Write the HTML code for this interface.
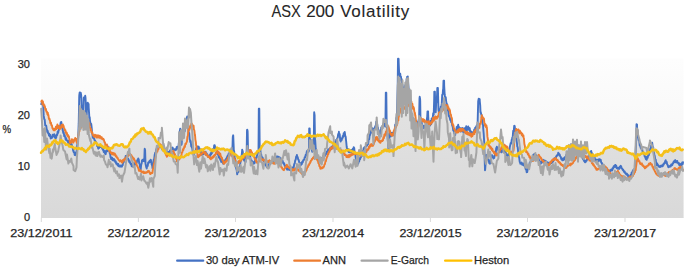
<!DOCTYPE html>
<html><head><meta charset="utf-8"><title>ASX 200 Volatility</title>
<style>html,body{margin:0;padding:0;background:#fff;}body{width:685px;height:268px;overflow:hidden;}svg{display:block;}</style>
</head><body>
<svg width="685" height="268" viewBox="0 0 685 268" font-family='"Liberation Sans", sans-serif' fill="#262626">
<defs>
<linearGradient id="bg" x1="0" y1="0" x2="0" y2="1">
<stop offset="0" stop-color="#fdfdfd"/><stop offset="1" stop-color="#f2f2f2"/>
</linearGradient>
<linearGradient id="fl" gradientUnits="userSpaceOnUse" x1="0" y1="58.5" x2="0" y2="217.5">
<stop offset="0" stop-color="#e6e6e6"/><stop offset="1" stop-color="#d9d9d9"/>
</linearGradient>
</defs>
<rect x="0" y="0" width="685" height="268" fill="#ffffff"/>
<rect x="41.0" y="58.5" width="642.5" height="159.0" fill="url(#bg)"/>
<path d="M41.0,217.5 L41.0,101.3 L41.5,101.1 L42.0,101.2 L42.5,103.4 L43.0,103.5 L43.5,103.9 L44.0,105.9 L44.5,105.8 L45.0,107.2 L45.5,109.7 L46.0,109.5 L46.5,111.9 L47.0,112.1 L47.5,114.1 L48.0,115.3 L48.5,115.7 L49.0,118.7 L49.5,119.1 L50.0,120.7 L50.5,123.2 L51.0,123.1 L51.5,125.3 L52.0,125.8 L52.5,128.1 L53.0,129.1 L53.5,129.3 L54.0,130.0 L54.5,129.2 L55.0,128.8 L55.5,128.8 L56.0,127.2 L56.5,126.8 L57.0,126.6 L57.5,125.3 L58.0,127.3 L58.5,126.9 L59.0,126.5 L59.5,128.4 L60.0,126.0 L60.5,123.6 L61.0,123.2 L61.5,123.5 L62.0,125.7 L62.5,126.5 L63.0,124.8 L63.5,125.8 L64.0,127.5 L64.5,128.8 L65.0,130.4 L65.5,130.6 L66.0,132.9 L66.5,134.0 L67.0,133.5 L67.5,135.8 L68.0,135.4 L68.5,136.8 L69.0,137.5 L69.5,139.5 L70.0,141.8 L70.5,142.9 L71.0,141.6 L71.5,142.0 L72.0,139.4 L72.5,139.9 L73.0,140.7 L73.5,142.0 L74.0,141.1 L74.5,139.3 L75.0,138.9 L75.5,139.5 L76.0,139.3 L76.5,141.8 L77.0,141.9 L77.5,138.5 L78.0,137.6 L78.5,128.7 L79.0,107.9 L79.5,93.7 L80.0,95.1 L80.5,94.4 L81.0,94.3 L81.5,103.3 L82.0,111.4 L82.5,111.5 L83.0,111.2 L83.5,105.3 L84.0,97.4 L84.5,98.6 L85.0,97.2 L85.5,97.6 L86.0,112.2 L86.5,112.9 L87.0,108.1 L87.5,103.2 L88.0,103.5 L88.5,104.0 L89.0,112.1 L89.5,117.6 L90.0,120.7 L90.5,123.5 L91.0,124.3 L91.5,126.1 L92.0,131.3 L92.5,133.3 L93.0,135.4 L93.5,135.6 L94.0,135.7 L94.5,136.4 L95.0,134.9 L95.5,135.7 L96.0,135.8 L96.5,137.1 L97.0,136.4 L97.5,136.3 L98.0,137.2 L98.5,135.8 L99.0,135.9 L99.5,137.5 L100.0,136.2 L100.5,137.5 L101.0,137.3 L101.5,138.6 L102.0,138.4 L102.5,138.8 L103.0,139.2 L103.5,139.0 L104.0,140.1 L104.5,142.1 L105.0,142.8 L105.5,145.2 L106.0,145.2 L106.5,146.2 L107.0,145.0 L107.5,146.2 L108.0,148.6 L108.5,148.4 L109.0,149.0 L109.5,148.6 L110.0,148.2 L110.5,148.5 L111.0,148.3 L111.5,147.8 L112.0,148.1 L112.5,147.9 L113.0,147.1 L113.5,146.0 L114.0,145.1 L114.5,144.8 L115.0,144.8 L115.5,144.9 L116.0,144.5 L116.5,144.3 L117.0,144.4 L117.5,144.9 L118.0,145.4 L118.5,145.5 L119.0,145.7 L119.5,145.8 L120.0,145.3 L120.5,144.9 L121.0,144.4 L121.5,144.2 L122.0,144.2 L122.5,144.4 L123.0,145.2 L123.5,146.3 L124.0,146.9 L124.5,147.3 L125.0,147.3 L125.5,146.9 L126.0,146.6 L126.5,147.0 L127.0,146.9 L127.5,146.5 L128.0,146.3 L128.5,145.7 L129.0,144.5 L129.5,143.2 L130.0,142.1 L130.5,141.8 L131.0,140.8 L131.5,139.2 L132.0,139.0 L132.5,138.7 L133.0,138.3 L133.5,137.4 L134.0,136.6 L134.5,136.8 L135.0,135.9 L135.5,134.5 L136.0,135.0 L136.5,134.9 L137.0,133.8 L137.5,133.6 L138.0,133.4 L138.5,133.0 L139.0,132.7 L139.5,132.5 L140.0,132.0 L140.5,131.0 L141.0,129.3 L141.5,128.7 L142.0,128.5 L142.5,128.9 L143.0,128.6 L143.5,128.0 L144.0,129.3 L144.5,130.2 L145.0,130.6 L145.5,131.2 L146.0,131.7 L146.5,131.9 L147.0,132.0 L147.5,131.9 L148.0,133.0 L148.5,133.6 L149.0,133.5 L149.5,132.7 L150.0,131.9 L150.5,132.0 L151.0,132.8 L151.5,134.0 L152.0,134.2 L152.5,134.6 L153.0,135.3 L153.5,136.3 L154.0,137.2 L154.5,137.3 L155.0,138.3 L155.5,139.9 L156.0,140.8 L156.5,141.5 L157.0,142.1 L157.5,142.2 L158.0,142.4 L158.5,138.0 L159.0,138.1 L159.5,138.2 L160.0,138.2 L160.5,135.8 L161.0,132.7 L161.5,133.5 L162.0,129.1 L162.5,135.7 L163.0,142.4 L163.5,145.7 L164.0,145.6 L164.5,147.9 L165.0,150.2 L165.5,151.1 L166.0,149.7 L166.5,148.3 L167.0,150.9 L167.5,148.3 L168.0,145.7 L168.5,143.1 L169.0,142.9 L169.5,143.6 L170.0,143.4 L170.5,144.2 L171.0,148.5 L171.5,148.9 L172.0,148.5 L172.5,148.0 L173.0,148.9 L173.5,149.5 L174.0,149.6 L174.5,149.4 L175.0,149.8 L175.5,149.5 L176.0,149.5 L176.5,148.1 L177.0,148.2 L177.5,147.8 L178.0,147.5 L178.5,148.1 L179.0,141.4 L179.5,134.6 L180.0,129.9 L180.5,131.1 L181.0,130.3 L181.5,134.4 L182.0,138.4 L182.5,132.1 L183.0,123.4 L183.5,127.6 L184.0,129.8 L184.5,128.3 L185.0,118.6 L185.5,125.6 L186.0,124.7 L186.5,121.0 L187.0,117.3 L187.5,117.1 L188.0,122.9 L188.5,117.5 L189.0,107.6 L189.5,113.7 L190.0,108.9 L190.5,111.2 L191.0,115.5 L191.5,122.7 L192.0,124.2 L192.5,126.3 L193.0,125.2 L193.5,125.9 L194.0,129.5 L194.5,131.5 L195.0,134.5 L195.5,140.1 L196.0,143.7 L196.5,147.0 L197.0,147.9 L197.5,147.4 L198.0,147.9 L198.5,147.5 L199.0,147.9 L199.5,148.7 L200.0,150.3 L200.5,150.2 L201.0,150.0 L201.5,149.6 L202.0,149.4 L202.5,150.2 L203.0,150.0 L203.5,149.1 L204.0,148.9 L204.5,148.6 L205.0,148.2 L205.5,147.8 L206.0,147.4 L206.5,147.6 L207.0,147.5 L207.5,147.3 L208.0,148.0 L208.5,148.3 L209.0,148.1 L209.5,148.6 L210.0,149.2 L210.5,150.0 L211.0,150.0 L211.5,149.6 L212.0,150.5 L212.5,150.7 L213.0,149.9 L213.5,149.1 L214.0,146.9 L214.5,145.1 L215.0,146.5 L215.5,147.8 L216.0,149.6 L216.5,148.8 L217.0,147.8 L217.5,148.0 L218.0,148.4 L218.5,148.8 L219.0,148.8 L219.5,148.6 L220.0,149.0 L220.5,149.3 L221.0,149.4 L221.5,149.1 L222.0,148.8 L222.5,149.2 L223.0,149.0 L223.5,148.6 L224.0,149.0 L224.5,149.6 L225.0,150.2 L225.5,150.1 L226.0,149.9 L226.5,149.6 L227.0,149.5 L227.5,149.5 L228.0,149.9 L228.5,150.2 L229.0,150.3 L229.5,150.6 L230.0,149.7 L230.5,151.2 L231.0,149.6 L231.5,148.0 L232.0,150.0 L232.5,146.5 L233.0,136.0 L233.5,142.0 L234.0,150.8 L234.5,154.3 L235.0,154.5 L235.5,154.4 L236.0,154.8 L236.5,155.3 L237.0,155.9 L237.5,157.1 L238.0,158.0 L238.5,157.1 L239.0,157.1 L239.5,157.8 L240.0,158.6 L240.5,158.9 L241.0,158.3 L241.5,155.9 L242.0,152.0 L242.5,150.6 L243.0,154.4 L243.5,155.4 L244.0,154.7 L244.5,154.3 L245.0,154.2 L245.5,154.3 L246.0,154.0 L246.5,152.4 L247.0,130.4 L247.5,130.7 L248.0,150.1 L248.5,150.9 L249.0,150.9 L249.5,150.6 L250.0,151.5 L250.5,150.1 L251.0,150.6 L251.5,152.2 L252.0,152.6 L252.5,154.0 L253.0,154.2 L253.5,155.4 L254.0,155.5 L254.5,154.3 L255.0,153.7 L255.5,153.5 L256.0,153.3 L256.5,152.7 L257.0,151.5 L257.5,151.2 L258.0,151.2 L258.5,149.9 L259.0,109.9 L259.5,127.8 L260.0,147.6 L260.5,148.9 L261.0,148.2 L261.5,147.1 L262.0,146.1 L262.5,145.7 L263.0,145.0 L263.5,144.1 L264.0,143.8 L264.5,143.3 L265.0,142.5 L265.5,141.9 L266.0,141.6 L266.5,141.9 L267.0,141.9 L267.5,141.8 L268.0,142.0 L268.5,142.2 L269.0,142.5 L269.5,143.0 L270.0,143.4 L270.5,143.6 L271.0,143.3 L271.5,142.8 L272.0,144.2 L272.5,145.0 L273.0,145.1 L273.5,144.7 L274.0,144.3 L274.5,144.4 L275.0,144.1 L275.5,143.4 L276.0,143.1 L276.5,142.9 L277.0,142.8 L277.5,142.4 L278.0,142.2 L278.5,142.6 L279.0,142.9 L279.5,143.1 L280.0,142.7 L280.5,142.7 L281.0,143.3 L281.5,142.8 L282.0,142.2 L282.5,142.1 L283.0,142.3 L283.5,142.6 L284.0,142.2 L284.5,141.5 L285.0,140.5 L285.5,140.6 L286.0,141.0 L286.5,141.4 L287.0,141.4 L287.5,141.0 L288.0,142.2 L288.5,142.8 L289.0,142.6 L289.5,142.6 L290.0,143.0 L290.5,144.1 L291.0,144.7 L291.5,144.9 L292.0,144.8 L292.5,144.8 L293.0,145.1 L293.5,144.9 L294.0,144.2 L294.5,142.1 L295.0,141.0 L295.5,140.6 L296.0,139.0 L296.5,138.0 L297.0,137.6 L297.5,136.6 L298.0,135.8 L298.5,136.2 L299.0,136.6 L299.5,136.9 L300.0,136.0 L300.5,135.3 L301.0,135.2 L301.5,136.0 L302.0,137.0 L302.5,137.2 L303.0,137.1 L303.5,136.7 L304.0,137.0 L304.5,137.1 L305.0,136.8 L305.5,136.4 L306.0,136.0 L306.5,135.9 L307.0,135.3 L307.5,134.4 L308.0,135.4 L308.5,135.8 L309.0,135.4 L309.5,128.4 L310.0,135.4 L310.5,135.8 L311.0,136.3 L311.5,136.8 L312.0,136.4 L312.5,136.1 L313.0,135.8 L313.5,135.9 L314.0,123.7 L314.5,114.4 L315.0,135.9 L315.5,136.2 L316.0,136.2 L316.5,136.0 L317.0,135.3 L317.5,134.9 L318.0,134.9 L318.5,135.5 L319.0,135.5 L319.5,134.9 L320.0,134.9 L320.5,135.2 L321.0,135.8 L321.5,135.6 L322.0,135.2 L322.5,135.2 L323.0,134.8 L323.5,134.2 L324.0,135.0 L324.5,135.7 L325.0,136.4 L325.5,137.3 L326.0,138.0 L326.5,137.3 L327.0,137.7 L327.5,138.8 L328.0,136.5 L328.5,132.5 L329.0,130.7 L329.5,128.8 L330.0,126.9 L330.5,133.1 L331.0,132.6 L331.5,132.0 L332.0,134.7 L332.5,135.3 L333.0,135.9 L333.5,136.5 L334.0,142.3 L334.5,144.0 L335.0,143.0 L335.5,142.7 L336.0,141.1 L336.5,139.8 L337.0,138.9 L337.5,138.0 L338.0,135.4 L338.5,134.5 L339.0,133.1 L339.5,134.7 L340.0,137.9 L340.5,139.9 L341.0,139.8 L341.5,139.5 L342.0,138.7 L342.5,138.1 L343.0,136.5 L343.5,134.6 L344.0,134.7 L344.5,133.5 L345.0,134.2 L345.5,136.4 L346.0,140.1 L346.5,144.8 L347.0,148.8 L347.5,150.5 L348.0,149.9 L348.5,149.9 L349.0,149.7 L349.5,150.0 L350.0,150.4 L350.5,151.1 L351.0,151.2 L351.5,150.8 L352.0,150.4 L352.5,149.7 L353.0,150.0 L353.5,148.5 L354.0,148.5 L354.5,151.4 L355.0,152.9 L355.5,152.8 L356.0,153.1 L356.5,153.2 L357.0,153.0 L357.5,153.2 L358.0,153.3 L358.5,153.4 L359.0,150.8 L359.5,151.2 L360.0,152.9 L360.5,153.1 L361.0,146.6 L361.5,149.8 L362.0,152.8 L362.5,152.3 L363.0,151.2 L363.5,149.5 L364.0,148.4 L364.5,147.9 L365.0,147.2 L365.5,146.9 L366.0,143.0 L366.5,143.0 L367.0,143.1 L367.5,139.2 L368.0,134.5 L368.5,133.6 L369.0,132.8 L369.5,125.4 L370.0,125.8 L370.5,124.1 L371.0,122.4 L371.5,130.3 L372.0,129.3 L372.5,128.7 L373.0,130.6 L373.5,130.2 L374.0,131.2 L374.5,129.2 L375.0,127.4 L375.5,126.3 L376.0,123.6 L376.5,121.5 L377.0,122.0 L377.5,126.8 L378.0,127.9 L378.5,130.6 L379.0,133.9 L379.5,134.7 L380.0,133.7 L380.5,131.2 L381.0,130.2 L381.5,128.5 L382.0,126.0 L382.5,126.5 L383.0,124.8 L383.5,119.0 L384.0,120.4 L384.5,121.8 L385.0,121.3 L385.5,117.0 L386.0,94.0 L386.5,109.0 L387.0,125.3 L387.5,124.9 L388.0,128.9 L388.5,127.4 L389.0,128.7 L389.5,131.5 L390.0,131.2 L390.5,134.0 L391.0,134.4 L391.5,134.2 L392.0,134.9 L392.5,133.8 L393.0,134.2 L393.5,133.2 L394.0,130.5 L394.5,130.9 L395.0,127.0 L395.5,124.7 L396.0,120.7 L396.5,114.1 L397.0,110.7 L397.5,93.4 L398.0,58.7 L398.5,59.2 L399.0,70.1 L399.5,75.6 L400.0,74.6 L400.5,76.4 L401.0,76.7 L401.5,79.6 L402.0,82.4 L402.5,80.2 L403.0,88.5 L403.5,91.2 L404.0,91.3 L404.5,88.8 L405.0,88.2 L405.5,87.0 L406.0,83.5 L406.5,81.9 L407.0,80.1 L407.5,77.6 L408.0,80.1 L408.5,86.9 L409.0,95.1 L409.5,89.3 L410.0,101.8 L410.5,103.6 L411.0,101.4 L411.5,102.3 L412.0,104.9 L412.5,104.8 L413.0,108.3 L413.5,108.2 L414.0,108.7 L414.5,112.2 L415.0,113.5 L415.5,116.5 L416.0,120.9 L416.5,123.1 L417.0,123.9 L417.5,123.4 L418.0,122.0 L418.5,120.6 L419.0,116.0 L419.5,98.7 L420.0,98.4 L420.5,118.7 L421.0,118.4 L421.5,119.6 L422.0,119.6 L422.5,120.7 L423.0,119.5 L423.5,121.2 L424.0,121.0 L424.5,120.4 L425.0,122.3 L425.5,121.5 L426.0,122.4 L426.5,121.6 L427.0,118.3 L427.5,111.4 L428.0,111.5 L428.5,121.2 L429.0,122.0 L429.5,123.5 L430.0,123.1 L430.5,122.6 L431.0,122.6 L431.5,120.7 L432.0,120.1 L432.5,119.0 L433.0,115.2 L433.5,114.2 L434.0,105.1 L434.5,92.3 L435.0,96.0 L435.5,112.0 L436.0,106.7 L436.5,102.0 L437.0,95.7 L437.5,89.4 L438.0,91.9 L438.5,109.9 L439.0,110.0 L439.5,111.8 L440.0,111.8 L440.5,109.6 L441.0,107.2 L441.5,104.8 L442.0,98.7 L442.5,94.6 L443.0,89.7 L443.5,80.8 L444.0,81.4 L444.5,91.2 L445.0,97.7 L445.5,98.1 L446.0,99.7 L446.5,103.3 L447.0,104.4 L447.5,105.8 L448.0,108.4 L448.5,107.7 L449.0,109.6 L449.5,109.6 L450.0,111.0 L450.5,114.3 L451.0,115.2 L451.5,117.8 L452.0,119.3 L452.5,124.3 L453.0,124.9 L453.5,125.8 L454.0,128.8 L454.5,129.1 L455.0,130.7 L455.5,131.8 L456.0,130.9 L456.5,128.8 L457.0,128.4 L457.5,127.4 L458.0,126.3 L458.5,127.7 L459.0,128.2 L459.5,128.8 L460.0,128.8 L460.5,129.1 L461.0,129.5 L461.5,129.5 L462.0,130.3 L462.5,129.2 L463.0,129.1 L463.5,130.1 L464.0,130.2 L464.5,129.9 L465.0,130.0 L465.5,129.3 L466.0,127.4 L466.5,128.8 L467.0,129.1 L467.5,129.0 L468.0,127.7 L468.5,128.4 L469.0,127.8 L469.5,128.9 L470.0,130.6 L470.5,131.6 L471.0,132.8 L471.5,132.7 L472.0,134.2 L472.5,133.4 L473.0,132.9 L473.5,133.0 L474.0,131.2 L474.5,130.5 L475.0,129.0 L475.5,128.4 L476.0,127.4 L476.5,127.4 L477.0,125.9 L477.5,124.0 L478.0,108.4 L478.5,99.6 L479.0,101.3 L479.5,100.8 L480.0,103.3 L480.5,112.1 L481.0,113.3 L481.5,114.7 L482.0,115.9 L482.5,118.2 L483.0,117.5 L483.5,118.6 L484.0,119.5 L484.5,123.4 L485.0,125.7 L485.5,124.8 L486.0,126.9 L486.5,126.1 L487.0,129.4 L487.5,136.9 L488.0,140.4 L488.5,142.1 L489.0,142.8 L489.5,142.8 L490.0,142.4 L490.5,141.0 L491.0,140.3 L491.5,140.0 L492.0,140.6 L492.5,140.8 L493.0,140.4 L493.5,139.7 L494.0,139.0 L494.5,138.5 L495.0,138.4 L495.5,138.4 L496.0,138.1 L496.5,138.4 L497.0,139.5 L497.5,139.9 L498.0,140.1 L498.5,140.5 L499.0,140.7 L499.5,140.7 L500.0,140.1 L500.5,135.2 L501.0,129.5 L501.5,134.2 L502.0,137.8 L502.5,137.2 L503.0,143.2 L503.5,145.3 L504.0,145.0 L504.5,146.3 L505.0,145.5 L505.5,146.8 L506.0,146.3 L506.5,147.3 L507.0,147.7 L507.5,147.6 L508.0,149.6 L508.5,149.9 L509.0,151.4 L509.5,149.7 L510.0,146.0 L510.5,143.8 L511.0,143.3 L511.5,141.2 L512.0,140.0 L512.5,137.4 L513.0,133.2 L513.5,131.3 L514.0,128.2 L514.5,125.8 L515.0,128.7 L515.5,131.5 L516.0,130.1 L516.5,129.4 L517.0,131.4 L517.5,130.5 L518.0,130.6 L518.5,129.9 L519.0,130.5 L519.5,132.9 L520.0,131.2 L520.5,133.1 L521.0,133.3 L521.5,133.1 L522.0,135.0 L522.5,134.4 L523.0,136.2 L523.5,136.2 L524.0,139.4 L524.5,144.5 L525.0,147.2 L525.5,149.4 L526.0,148.4 L526.5,147.9 L527.0,147.7 L527.5,147.5 L528.0,146.7 L528.5,145.7 L529.0,144.6 L529.5,143.8 L530.0,143.2 L530.5,143.1 L531.0,143.2 L531.5,143.4 L532.0,142.7 L532.5,141.9 L533.0,140.9 L533.5,140.7 L534.0,140.8 L534.5,141.3 L535.0,141.1 L535.5,140.5 L536.0,140.8 L536.5,140.9 L537.0,140.8 L537.5,141.1 L538.0,141.4 L538.5,141.4 L539.0,141.6 L539.5,141.8 L540.0,140.7 L540.5,140.1 L541.0,140.5 L541.5,140.9 L542.0,141.3 L542.5,141.7 L543.0,141.9 L543.5,142.1 L544.0,143.2 L544.5,143.8 L545.0,143.4 L545.5,144.1 L546.0,145.1 L546.5,145.6 L547.0,145.4 L547.5,144.9 L548.0,145.0 L548.5,145.5 L549.0,146.6 L549.5,146.2 L550.0,145.6 L550.5,146.1 L551.0,146.6 L551.5,147.2 L552.0,147.5 L552.5,148.2 L553.0,149.4 L553.5,149.4 L554.0,149.1 L554.5,149.0 L555.0,149.0 L555.5,149.0 L556.0,148.7 L556.5,148.2 L557.0,147.1 L557.5,147.4 L558.0,147.9 L558.5,148.3 L559.0,148.0 L559.5,147.3 L560.0,148.0 L560.5,148.4 L561.0,148.4 L561.5,148.2 L562.0,148.1 L562.5,148.9 L563.0,148.9 L563.5,148.4 L564.0,148.9 L564.5,149.0 L565.0,148.2 L565.5,148.0 L566.0,147.8 L566.5,146.8 L567.0,146.5 L567.5,146.7 L568.0,146.2 L568.5,146.0 L569.0,145.1 L569.5,146.6 L570.0,146.9 L570.5,147.1 L571.0,144.1 L571.5,146.0 L572.0,145.4 L572.5,145.3 L573.0,139.4 L573.5,145.8 L574.0,145.8 L574.5,146.4 L575.0,141.6 L575.5,146.9 L576.0,147.6 L576.5,148.0 L577.0,139.8 L577.5,148.0 L578.0,148.4 L578.5,147.2 L579.0,145.1 L579.5,148.7 L580.0,148.8 L580.5,149.0 L581.0,141.5 L581.5,149.2 L582.0,148.9 L582.5,148.1 L583.0,145.2 L583.5,147.6 L584.0,147.4 L584.5,147.4 L585.0,141.9 L585.5,148.2 L586.0,148.4 L586.5,148.1 L587.0,141.9 L587.5,147.2 L588.0,151.2 L588.5,151.9 L589.0,152.5 L589.5,153.3 L590.0,154.1 L590.5,152.7 L591.0,152.1 L591.5,152.6 L592.0,153.4 L592.5,154.6 L593.0,154.6 L593.5,155.2 L594.0,155.9 L594.5,155.7 L595.0,155.7 L595.5,155.8 L596.0,155.0 L596.5,154.8 L597.0,155.4 L597.5,154.8 L598.0,154.1 L598.5,154.2 L599.0,154.3 L599.5,154.4 L600.0,154.0 L600.5,153.6 L601.0,153.0 L601.5,153.1 L602.0,153.3 L602.5,153.2 L603.0,152.4 L603.5,151.1 L604.0,150.1 L604.5,149.3 L605.0,148.9 L605.5,148.2 L606.0,147.8 L606.5,148.1 L607.0,148.0 L607.5,147.6 L608.0,147.4 L608.5,147.3 L609.0,147.6 L609.5,146.8 L610.0,146.1 L610.5,146.4 L611.0,146.3 L611.5,145.9 L612.0,146.4 L612.5,146.6 L613.0,146.4 L613.5,147.0 L614.0,147.6 L614.5,147.1 L615.0,147.4 L615.5,148.2 L616.0,147.9 L616.5,148.0 L617.0,149.0 L617.5,149.1 L618.0,149.1 L618.5,148.9 L619.0,149.4 L619.5,150.3 L620.0,149.7 L620.5,149.7 L621.0,150.5 L621.5,150.4 L622.0,150.0 L622.5,149.3 L623.0,148.9 L623.5,148.5 L624.0,148.9 L624.5,149.3 L625.0,149.6 L625.5,149.5 L626.0,149.5 L626.5,150.0 L627.0,151.1 L627.5,152.6 L628.0,152.4 L628.5,152.5 L629.0,153.1 L629.5,153.2 L630.0,153.2 L630.5,153.3 L631.0,153.7 L631.5,154.2 L632.0,153.9 L632.5,153.7 L633.0,153.8 L633.5,154.5 L634.0,155.3 L634.5,155.7 L635.0,156.9 L635.5,148.2 L636.0,135.6 L636.5,124.2 L637.0,124.4 L637.5,129.4 L638.0,134.2 L638.5,136.1 L639.0,137.9 L639.5,139.8 L640.0,142.4 L640.5,143.5 L641.0,144.5 L641.5,147.4 L642.0,149.1 L642.5,148.0 L643.0,146.9 L643.5,147.1 L644.0,147.2 L644.5,147.3 L645.0,147.5 L645.5,147.7 L646.0,147.8 L646.5,148.4 L647.0,150.9 L647.5,153.1 L648.0,150.6 L648.5,147.6 L649.0,145.4 L649.5,143.2 L650.0,140.7 L650.5,141.9 L651.0,143.0 L651.5,144.1 L652.0,143.9 L652.5,145.3 L653.0,147.1 L653.5,149.9 L654.0,150.2 L654.5,150.2 L655.0,150.0 L655.5,149.8 L656.0,150.1 L656.5,150.8 L657.0,152.0 L657.5,152.1 L658.0,152.1 L658.5,153.2 L659.0,154.2 L659.5,155.1 L660.0,155.3 L660.5,155.3 L661.0,155.1 L661.5,155.4 L662.0,155.6 L662.5,154.6 L663.0,153.8 L663.5,153.2 L664.0,152.1 L664.5,151.6 L665.0,152.1 L665.5,151.5 L666.0,150.7 L666.5,151.0 L667.0,151.3 L667.5,151.8 L668.0,151.6 L668.5,151.1 L669.0,150.0 L669.5,149.5 L670.0,149.2 L670.5,149.0 L671.0,149.5 L671.5,150.4 L672.0,149.8 L672.5,149.9 L673.0,151.1 L673.5,150.5 L674.0,149.7 L674.5,150.3 L675.0,150.2 L675.5,149.7 L676.0,149.1 L676.5,148.5 L677.0,148.2 L677.5,148.2 L678.0,148.4 L678.5,148.5 L679.0,148.2 L679.5,147.7 L680.0,148.7 L680.5,149.5 L681.0,149.9 L681.5,150.1 L682.0,150.1 L682.5,149.6 L683.0,149.5 L683.5,149.5 L683.5,217.5 Z" fill="url(#fl)"/>
<line x1="41.0" y1="217.5" x2="683.5" y2="217.5" stroke="#d9d9d9" stroke-width="1"/>
<line x1="41.3" y1="217.5" x2="41.3" y2="222.0" stroke="#d9d9d9" stroke-width="1"/><line x1="138.4" y1="217.5" x2="138.4" y2="222.0" stroke="#d9d9d9" stroke-width="1"/><line x1="235.5" y1="217.5" x2="235.5" y2="222.0" stroke="#d9d9d9" stroke-width="1"/><line x1="333.0" y1="217.5" x2="333.0" y2="222.0" stroke="#d9d9d9" stroke-width="1"/><line x1="430.4" y1="217.5" x2="430.4" y2="222.0" stroke="#d9d9d9" stroke-width="1"/><line x1="527.5" y1="217.5" x2="527.5" y2="222.0" stroke="#d9d9d9" stroke-width="1"/><line x1="625.0" y1="217.5" x2="625.0" y2="222.0" stroke="#d9d9d9" stroke-width="1"/><polyline points="41.2,104.2 41.7,102.4 42.2,103.9 42.7,103.1 43.0,104.1 43.2,105.2 43.7,115.9 43.9,116.7 44.2,119.1 44.7,119.5 45.2,125.3 45.6,125.0 45.7,125.7 46.2,125.6 46.7,129.1 47.0,129.9 47.2,131.8 47.7,130.9 48.2,133.5 48.7,133.3 48.9,135.5 49.2,133.7 49.7,136.2 50.2,134.8 50.7,138.6 51.0,136.8 51.2,138.1 51.7,136.7 52.2,137.7 52.7,134.7 53.2,136.2 53.7,134.7 53.9,135.4 54.2,134.1 54.7,137.5 55.2,135.6 55.7,138.7 56.0,136.8 56.2,137.5 56.7,134.5 57.2,135.1 57.7,131.4 58.2,132.9 58.5,130.9 58.7,130.5 59.2,128.1 59.7,128.6 60.0,126.0 60.2,125.6 60.7,122.3 61.2,123.8 61.3,121.9 61.7,125.2 62.2,126.0 62.6,130.1 62.7,128.9 63.2,132.8 63.7,132.2 64.2,136.1 64.7,135.0 65.0,137.1 65.2,137.0 65.7,139.8 66.2,138.2 66.7,140.4 67.2,140.4 67.3,141.1 67.7,140.7 68.2,142.7 68.7,140.6 69.2,143.6 69.5,141.9 69.7,142.4 70.2,141.3 70.7,144.5 71.2,143.3 71.5,144.1 71.7,144.4 72.2,147.5 72.7,147.4 73.2,151.0 73.6,150.8 73.7,152.1 74.2,152.4 74.7,155.0 75.0,154.9 75.2,155.2 75.7,152.4 76.2,153.8 76.5,151.9 76.7,150.6 77.2,144.9 77.7,143.0 78.0,139.9 78.2,137.1 78.6,125.8 78.7,123.9 79.2,97.2 79.3,95.1 79.7,92.4 80.2,96.8 80.7,92.8 81.2,95.2 81.7,108.7 81.8,112.3 82.2,110.5 82.7,112.2 83.2,110.6 83.3,112.2 83.7,98.3 83.8,97.5 84.2,97.2 84.7,99.5 85.2,95.7 85.5,97.6 85.7,101.7 86.0,112.2 86.2,110.3 86.7,114.7 86.8,111.9 87.2,104.2 87.7,102.6 88.2,104.2 88.6,104.0 88.7,107.6 89.2,115.0 89.3,118.1 89.7,117.2 90.2,123.1 90.3,122.0 90.7,125.0 91.2,123.8 91.5,126.1 91.7,127.9 92.2,133.6 92.5,135.0 92.7,137.6 93.2,136.5 93.7,138.5 94.2,138.4 94.7,140.8 95.2,140.7 95.7,142.2 96.0,142.0 96.2,142.5 96.7,143.8 97.2,146.4 97.7,145.9 98.2,148.7 98.7,147.5 99.2,147.9 99.7,145.5 100.0,147.1 100.2,146.3 100.7,147.1 101.2,146.0 101.7,147.4 102.0,146.6 102.2,148.6 102.7,146.8 103.2,150.6 103.5,149.9 103.7,152.0 104.2,150.8 104.7,153.0 104.9,152.9 105.2,153.9 105.4,153.4 105.7,154.2 106.2,150.5 106.7,151.1 107.0,149.9 107.2,151.3 107.7,148.6 108.2,150.4 108.7,147.1 108.8,148.6 109.2,149.7 109.7,153.2 110.2,154.3 110.5,157.1 110.7,156.7 111.2,159.2 111.7,158.3 112.0,159.1 112.2,157.6 112.7,160.2 113.2,159.0 113.7,160.5 114.2,159.2 114.5,160.0 114.7,160.0 115.2,162.0 115.7,161.2 116.2,163.7 116.7,163.0 117.2,164.4 117.5,164.9 117.7,165.4 118.2,164.0 118.7,166.4 119.2,165.4 119.7,166.5 120.0,165.9 120.2,166.6 120.7,165.4 121.2,166.7 121.7,165.4 122.0,166.5 122.2,165.1 122.7,165.2 123.2,162.0 123.7,162.3 124.2,159.5 124.3,160.1 124.7,158.8 125.2,158.8 125.7,156.0 126.2,157.4 126.4,156.0 126.7,157.6 127.2,157.3 127.7,158.9 128.2,158.5 128.5,160.1 128.7,159.6 129.2,162.0 129.7,161.0 130.2,163.4 130.5,162.9 130.7,164.3 131.2,163.6 131.7,166.3 132.2,165.8 132.4,166.5 132.7,165.1 133.2,165.9 133.7,164.7 134.2,165.5 134.7,163.1 135.2,164.6 135.4,163.3 135.7,163.6 136.2,162.2 136.7,162.7 137.2,160.3 137.7,159.9 138.2,158.5 138.4,159.1 138.7,159.1 139.2,163.3 139.7,164.3 140.2,168.0 140.6,169.3 140.7,169.5 141.2,164.7 141.7,163.1 142.0,160.3 142.2,160.8 142.7,159.7 143.2,160.9 143.7,159.2 144.2,161.4 144.3,159.9 144.6,150.2 144.7,148.8 145.1,150.1 145.2,152.8 145.5,164.0 145.7,164.5 146.2,167.2 146.6,167.9 146.7,168.6 147.2,165.4 147.7,166.0 148.2,162.5 148.7,162.8 148.8,161.9 149.2,162.4 149.7,160.6 150.2,162.0 150.7,159.7 151.0,160.5 151.2,161.2 151.7,164.6 152.2,165.6 152.5,168.1 152.7,166.3 153.2,164.8 153.7,159.7 154.2,158.9 154.7,154.5 154.8,154.6 155.2,152.8 155.7,152.7 156.2,149.5 156.7,148.4 157.2,146.9 157.7,149.4 158.2,145.6 158.7,147.5 159.2,144.6 159.7,146.1 160.0,145.0 160.2,145.5 160.7,145.3 161.2,147.9 161.7,146.8 162.2,149.7 162.7,148.8 163.0,150.2 163.2,149.0 163.7,151.1 164.2,150.5 164.7,151.7 165.2,150.6 165.7,153.1 166.0,151.9 166.2,153.1 166.7,151.3 167.2,154.1 167.7,151.7 168.2,153.9 168.5,153.5 168.7,154.2 169.2,151.8 169.7,152.1 170.2,150.1 170.7,151.6 171.2,147.9 171.7,149.5 171.8,148.3 172.2,148.7 172.7,147.6 173.2,149.8 173.7,149.2 174.2,149.8 174.7,149.2 175.2,150.2 175.7,149.1 176.2,149.8 176.7,146.9 177.0,148.2 177.2,146.8 177.7,148.5 178.2,146.9 178.5,148.1 178.7,144.2 179.2,139.9 179.7,131.1 179.8,131.1 180.2,128.7 180.5,131.1 180.7,133.5 181.2,141.8 181.5,144.9 181.7,143.7 182.2,135.0 182.5,132.1 182.7,129.0 183.2,128.1 183.3,125.5 183.7,129.7 184.2,129.9 184.7,131.4 185.2,126.2 185.5,128.3 185.7,124.5 186.2,124.7 186.7,118.5 186.8,118.2 187.2,116.5 187.6,117.3 187.7,116.8 188.2,127.0 188.5,129.9 188.7,133.7 189.2,133.0 189.7,139.5 190.0,140.0 190.2,142.0 190.7,141.1 191.2,146.3 191.7,145.9 192.0,148.1 192.2,147.9 192.7,151.8 193.2,152.7 193.6,155.2 193.7,154.4 194.2,153.9 194.7,151.9 195.0,152.1 195.2,151.3 195.7,151.2 196.2,148.1 196.7,149.3 197.0,147.9 197.2,148.8 197.7,146.4 198.2,148.9 198.7,146.6 199.2,148.8 199.7,148.5 200.2,151.4 200.7,151.0 201.2,153.7 201.7,153.7 202.0,155.0 202.2,154.2 202.7,154.3 203.2,152.4 203.7,154.0 204.2,151.9 204.7,153.0 205.0,151.9 205.2,152.9 205.7,151.8 206.2,155.2 206.7,153.3 207.2,155.0 207.7,155.1 208.2,157.0 208.7,156.8 209.2,156.9 209.7,154.9 210.2,155.8 210.7,153.1 211.2,154.4 211.7,151.8 212.0,153.1 212.2,151.5 212.7,151.8 213.2,148.7 213.7,149.4 214.2,145.3 214.6,145.1 214.7,145.2 215.2,147.4 215.7,148.1 216.2,150.7 216.7,151.0 217.0,151.9 217.2,151.6 217.7,154.5 218.2,153.5 218.7,157.4 219.2,155.6 219.7,158.8 220.2,158.8 220.5,160.3 220.7,159.9 221.2,161.9 221.7,160.0 222.2,162.4 222.7,161.2 223.2,163.7 223.7,162.9 223.8,163.6 224.2,161.9 224.7,162.5 225.2,159.9 225.7,160.3 226.2,158.5 226.7,158.6 227.0,156.9 227.2,158.1 227.7,155.4 228.2,155.9 228.7,153.4 229.2,154.7 229.7,152.6 230.2,153.2 230.5,151.7 230.7,152.9 231.2,150.4 231.7,151.9 232.2,148.7 232.4,150.0 232.7,139.5 232.8,136.8 233.2,135.3 233.3,137.2 233.7,146.8 233.8,150.0 234.2,151.6 234.7,157.2 235.2,159.9 235.7,165.0 235.8,165.0 236.2,168.6 236.7,170.3 237.2,174.4 237.7,172.3 238.2,172.1 238.7,168.8 239.2,169.3 239.7,166.2 240.0,166.1 240.2,163.9 240.7,161.1 241.2,156.8 241.7,155.3 242.2,149.7 242.3,150.2 242.7,151.1 243.2,156.6 243.7,157.5 244.0,160.1 244.2,159.4 244.7,161.5 245.2,160.8 245.6,162.0 245.7,160.3 246.2,156.0 246.7,149.9 247.0,130.4 247.2,129.6 247.6,131.1 247.7,133.7 248.0,150.1 248.2,149.3 248.7,151.9 249.2,150.3 249.5,152.1 249.7,153.2 250.2,156.9 250.7,160.2 251.2,161.4 251.7,160.6 252.2,162.6 252.7,161.5 253.2,163.7 253.7,162.7 254.0,163.6 254.2,162.0 254.7,162.9 255.2,159.9 255.7,159.4 256.2,157.2 256.7,157.5 257.2,154.6 257.4,155.1 257.7,153.2 258.2,152.1 258.5,149.9 258.7,125.0 258.8,108.7 259.2,111.0 259.3,108.8 259.7,146.8 260.2,148.2 260.7,153.7 261.2,154.3 261.5,157.1 261.7,156.5 262.2,159.1 262.7,157.7 263.2,160.6 263.4,160.0 263.7,160.9 264.2,160.6 264.7,163.8 265.2,163.7 265.7,165.4 266.2,165.0 266.7,167.0 267.2,165.8 267.7,166.8 268.2,165.1 268.7,165.8 269.2,163.8 269.7,164.3 270.0,163.4 270.2,164.2 270.7,162.2 271.2,162.4 271.7,160.9 272.2,161.9 272.7,160.0 273.2,161.2 273.4,160.0 273.7,160.7 274.2,158.8 274.7,159.8 275.2,157.5 275.7,158.4 276.2,156.4 276.7,157.3 276.8,156.7 277.2,157.7 277.7,156.4 278.2,158.5 278.7,157.0 279.2,158.7 279.7,157.4 280.2,158.5 280.7,158.8 281.2,160.3 281.7,160.5 282.2,162.1 282.7,160.9 283.2,163.3 283.5,163.5 283.7,163.9 284.2,163.3 284.7,166.1 285.2,165.5 285.7,167.6 286.2,166.5 286.7,169.1 286.8,168.5 287.2,169.7 287.7,168.2 288.2,169.6 288.7,168.4 289.2,169.7 289.7,169.6 290.2,170.2 290.7,169.3 291.2,169.6 291.7,168.2 292.2,168.6 292.7,167.5 293.2,168.1 293.6,166.9 293.7,167.5 294.2,164.0 294.7,163.6 295.2,160.4 295.7,159.7 296.2,156.5 296.7,156.5 296.9,155.0 297.2,156.8 297.7,157.1 298.2,159.5 298.7,160.0 299.2,162.4 299.7,162.9 300.2,165.5 300.3,165.1 300.7,165.3 301.2,162.9 301.7,164.2 302.2,161.7 302.7,162.5 303.2,160.1 303.6,160.3 303.7,159.7 304.2,159.6 304.7,157.2 305.2,157.2 305.7,154.8 306.2,155.5 306.7,151.9 307.0,151.9 307.2,150.7 307.7,152.2 308.2,150.0 308.7,151.6 308.9,149.8 309.2,128.4 309.7,128.4 310.1,145.1 310.2,143.4 310.7,147.3 311.2,147.0 311.7,149.9 312.0,150.0 312.2,151.7 312.7,149.1 313.2,150.9 313.7,150.0 314.1,114.9 314.2,112.3 314.6,115.1 314.7,121.2 315.0,140.1 315.2,140.2 315.7,148.0 316.2,150.0 316.7,156.2 317.0,158.4 317.2,159.0 317.7,157.9 318.2,160.2 318.7,158.9 319.2,160.7 319.7,158.8 320.2,160.7 320.4,160.1 320.7,160.8 321.2,158.7 321.7,159.3 322.2,157.6 322.7,158.3 323.2,155.9 323.7,158.2 323.8,156.7 324.2,157.1 324.7,155.1 325.2,155.6 325.7,153.5 326.2,154.1 326.7,151.4 327.1,151.9 327.2,151.1 327.7,151.7 328.2,149.1 328.7,150.6 329.2,149.2 329.7,150.5 330.2,147.8 330.5,148.5 330.7,147.6 331.2,149.0 331.7,146.6 332.2,148.2 332.7,146.1 333.2,146.7 333.7,144.1 333.8,145.1 334.2,143.2 334.7,144.8 335.2,141.8 335.7,143.3 336.2,139.6 336.7,139.9 337.2,138.3 337.7,137.7 338.2,133.9 338.7,134.9 338.9,131.8 339.2,135.5 339.7,134.1 340.2,140.4 340.5,139.9 340.7,141.5 341.2,138.6 341.7,140.1 342.2,137.7 342.5,138.1 342.7,135.9 343.2,136.9 343.7,133.1 344.2,135.7 344.7,131.9 345.2,135.7 345.7,136.9 346.0,140.1 346.2,141.6 346.7,147.0 347.2,149.9 347.7,150.9 348.2,149.2 348.7,152.1 349.2,149.8 349.7,152.3 350.2,150.9 350.6,151.8 350.7,149.9 351.2,152.2 351.7,149.9 352.2,150.6 352.7,149.1 353.2,150.5 353.7,147.2 354.0,148.5 354.2,147.9 354.7,153.7 355.2,153.6 355.7,158.0 356.2,158.6 356.7,163.2 357.2,164.6 357.3,165.2 357.7,164.0 358.2,163.4 358.7,161.7 359.2,161.4 359.7,158.3 360.2,159.1 360.7,156.7 361.2,156.9 361.7,153.7 362.2,154.5 362.7,150.8 363.2,151.5 363.7,148.2 364.0,148.4 364.2,147.5 364.7,148.2 365.2,146.6 365.7,147.0 366.2,144.6 366.7,145.9 367.2,144.1 367.4,145.1 367.7,142.5 368.2,144.0 368.7,139.1 369.2,139.2 369.7,135.1 370.0,135.1 370.2,133.0 370.7,133.6 371.2,130.3 371.7,131.9 372.0,129.3 372.2,129.4 372.7,128.2 373.2,132.1 373.7,129.0 374.0,131.2 374.2,128.9 374.7,129.4 375.2,126.2 375.7,126.4 376.2,121.8 376.7,122.3 377.2,124.3 377.7,128.4 378.0,127.9 378.2,129.6 378.7,131.2 379.2,135.7 379.7,134.1 380.2,133.5 380.7,129.6 381.0,130.2 381.2,127.5 381.7,129.1 382.2,126.7 382.7,126.4 383.0,124.8 383.2,125.0 383.7,122.9 384.2,125.5 384.7,123.6 385.2,126.6 385.4,124.9 385.7,101.2 385.8,92.6 386.2,95.5 386.3,92.8 386.7,125.2 387.2,131.9 387.7,139.6 388.2,144.7 388.5,150.1 388.7,145.3 389.2,137.1 389.3,133.9 389.7,134.8 390.2,132.1 390.7,136.6 391.2,132.8 391.7,135.3 392.0,134.9 392.2,135.4 392.7,132.8 393.2,135.2 393.7,132.6 394.0,134.1 394.2,131.8 394.7,130.4 395.2,124.7 395.7,124.8 396.2,118.0 396.7,119.2 396.8,117.1 397.2,104.3 397.6,89.8 397.7,85.1 398.0,58.7 398.2,60.3 398.6,58.8 398.7,63.0 399.2,74.9 399.7,76.0 400.2,73.6 400.7,78.3 401.0,76.7 401.2,80.4 401.7,79.1 402.2,84.6 402.5,84.8 402.7,88.6 403.2,88.5 403.6,92.1 403.7,90.9 404.2,92.3 404.7,86.4 405.0,88.2 405.2,85.1 405.7,88.2 406.0,83.5 406.2,86.7 406.7,78.8 407.0,80.1 407.2,76.6 407.7,78.3 407.8,76.5 408.2,83.8 408.7,89.0 409.2,99.2 409.4,100.4 409.7,104.9 410.2,105.2 410.7,110.5 411.2,111.4 411.7,116.8 412.0,117.0 412.2,120.5 412.7,117.7 413.2,122.8 413.7,121.2 414.2,126.1 414.7,125.6 415.2,128.6 415.3,128.8 415.7,128.1 416.2,124.7 416.7,126.4 417.2,122.3 417.7,124.2 417.8,122.0 418.2,122.0 418.7,119.7 419.1,120.1 419.2,112.6 419.5,98.7 419.7,96.8 420.1,99.0 420.2,100.8 420.5,120.1 420.7,119.6 421.2,124.0 421.7,122.6 422.2,127.0 422.7,125.5 423.2,128.2 423.7,125.9 424.0,128.1 424.2,126.3 424.7,127.6 425.2,125.4 425.7,126.5 426.2,123.5 426.5,125.1 426.7,120.2 427.2,117.0 427.5,111.4 427.7,111.7 428.1,111.4 428.2,115.9 428.7,124.8 429.2,124.9 429.7,122.6 430.2,125.5 430.7,120.7 431.2,124.1 431.7,118.4 432.1,120.6 432.2,120.0 432.7,118.2 433.2,113.2 433.7,114.8 433.8,111.8 434.2,98.3 434.3,91.6 434.7,92.9 434.9,91.8 435.2,104.3 435.5,112.0 435.7,112.3 436.2,103.0 436.7,101.3 436.8,99.7 437.2,91.7 437.3,88.0 437.7,90.8 437.9,87.9 438.2,99.8 438.5,109.9 438.7,111.2 439.2,109.2 439.7,113.6 440.0,111.8 440.2,114.1 440.7,106.7 441.2,107.6 441.5,104.8 441.7,104.5 442.2,94.8 442.7,94.5 443.0,89.7 443.2,89.1 443.5,80.8 443.7,83.6 444.1,80.6 444.2,86.1 444.7,94.7 445.2,99.8 445.7,97.1 446.2,101.5 446.3,101.8 446.7,104.7 447.2,104.2 447.7,110.3 448.2,109.7 448.7,116.0 448.9,115.4 449.2,116.6 449.7,117.5 450.2,120.0 450.7,119.0 451.2,122.4 451.7,122.0 452.2,125.7 452.7,126.3 453.2,130.5 453.7,128.7 454.2,133.4 454.7,134.0 455.2,135.1 455.7,130.1 456.2,131.5 456.7,126.9 457.2,129.5 457.7,126.0 458.1,126.5 458.2,124.8 458.7,129.6 459.2,127.2 459.7,129.8 460.2,128.1 460.7,131.5 461.2,128.1 461.5,131.0 461.7,129.4 462.2,131.2 462.7,127.9 463.2,132.0 463.7,129.0 464.2,132.2 464.7,128.3 465.2,131.1 465.6,128.7 465.7,129.2 466.2,126.3 466.7,130.5 467.2,128.2 467.7,129.6 468.2,126.5 468.7,129.7 469.0,127.8 469.2,129.8 469.7,128.2 470.2,132.2 470.7,131.1 471.2,133.9 471.7,131.9 472.0,134.2 472.2,132.4 472.7,134.1 473.2,132.1 473.7,133.6 474.2,129.5 474.7,131.1 475.2,127.6 475.7,129.0 476.2,126.3 476.7,128.1 477.2,124.5 477.6,125.2 477.7,119.4 478.2,101.1 478.7,98.6 479.2,103.1 479.7,99.3 479.8,101.3 480.2,105.3 480.5,112.1 480.7,111.9 481.2,114.2 481.6,114.9 481.7,117.2 482.2,116.6 482.7,124.7 483.0,124.8 483.2,128.3 483.7,133.8 484.1,140.1 484.2,142.4 484.7,160.8 485.0,170.2 485.2,169.3 485.7,162.1 486.2,158.4 486.5,154.9 486.7,155.8 487.2,156.4 487.7,159.6 488.2,158.3 488.4,160.1 488.7,159.7 489.2,163.2 489.7,162.1 490.0,163.7 490.2,162.2 490.7,161.1 491.2,156.8 491.7,155.2 492.2,155.2 492.7,157.2 493.2,157.1 493.4,158.6 493.7,157.2 494.2,158.0 494.7,155.1 495.1,155.3 495.2,154.0 495.7,153.4 496.2,148.1 496.7,147.7 496.8,146.8 497.2,148.9 497.7,147.7 498.2,150.3 498.4,149.9 498.7,150.5 499.2,149.5 499.7,151.4 500.0,150.0 500.2,151.4 500.7,150.1 501.2,152.4 501.7,150.7 501.8,151.9 502.2,150.9 502.7,151.6 503.2,149.2 503.5,150.1 503.7,149.4 504.2,152.3 504.7,150.8 505.2,151.9 505.7,152.0 506.2,155.2 506.7,154.2 506.8,155.3 507.2,155.4 507.7,156.3 508.2,155.6 508.5,156.9 508.7,154.1 509.2,153.0 509.7,147.5 510.2,145.1 510.7,143.0 511.2,143.5 511.7,139.7 512.0,140.0 512.2,137.8 512.7,137.1 513.2,130.7 513.7,131.7 514.2,125.9 514.4,125.8 514.7,126.0 515.2,130.4 515.7,132.3 516.0,135.1 516.2,135.6 516.7,141.3 517.0,143.3 517.2,146.3 517.7,147.2 518.2,152.7 518.6,154.9 518.7,156.3 519.2,157.7 519.7,161.9 520.2,162.8 520.3,163.7 520.7,162.9 521.2,163.7 521.7,162.6 522.2,164.8 522.7,163.6 523.2,164.7 523.6,163.5 523.7,165.2 524.2,164.7 524.7,166.5 525.2,166.9 525.7,169.3 526.2,169.4 526.7,172.3 527.0,171.9 527.2,172.0 527.7,169.2 528.2,168.4 528.7,166.6 529.2,166.0 529.7,162.7 530.2,162.8 530.3,161.8 530.7,161.7 531.2,159.3 531.7,159.8 532.2,157.5 532.7,157.4 533.2,155.0 533.7,155.2 534.2,154.0 534.7,156.8 535.2,155.2 535.7,157.1 536.2,155.1 536.7,157.3 537.0,156.7 537.2,158.4 537.7,157.8 538.2,159.5 538.7,158.9 539.2,161.3 539.7,161.6 540.2,163.4 540.4,163.5 540.7,163.7 541.2,161.3 541.7,162.9 542.2,161.5 542.7,161.9 543.2,159.8 543.7,161.3 543.8,160.1 544.2,160.7 544.7,160.8 545.2,162.5 545.7,160.8 546.2,163.7 546.7,162.5 547.1,163.6 547.2,162.2 547.7,164.6 548.2,162.6 548.7,163.9 549.2,162.7 549.7,164.0 550.2,162.5 550.5,163.7 550.7,162.2 551.2,163.2 551.7,162.3 552.2,162.4 552.7,161.1 553.2,161.6 553.7,159.6 553.8,160.3 554.2,158.5 554.7,158.9 555.2,157.7 555.7,158.7 556.2,156.1 556.7,156.0 557.2,155.0 557.7,155.6 558.2,152.8 558.7,154.1 558.9,153.4 559.2,154.5 559.7,154.4 560.2,156.6 560.7,156.6 561.2,159.1 561.7,158.2 562.2,160.3 562.7,159.1 563.2,160.2 563.7,158.3 564.2,159.5 564.7,157.3 565.2,157.3 565.6,156.8 565.7,156.7 566.2,154.9 566.7,156.5 567.2,153.5 567.7,154.2 568.2,151.3 568.7,153.1 568.9,151.6 569.2,152.7 569.7,151.8 570.2,154.0 570.7,151.8 571.2,154.2 571.7,152.8 572.2,154.9 572.3,153.3 572.7,153.8 573.2,152.2 573.7,153.4 574.2,150.6 574.7,152.0 575.2,149.1 575.6,150.1 575.7,149.9 576.2,151.0 576.7,149.8 577.2,151.7 577.7,150.0 578.2,152.1 578.7,151.1 579.0,151.9 579.2,151.3 579.7,154.4 580.2,152.4 580.7,155.4 581.2,154.7 581.7,156.5 582.2,156.2 582.3,156.9 582.7,157.5 583.2,159.5 583.7,158.9 584.2,161.3 584.7,160.8 585.0,162.4 585.2,161.8 585.7,161.9 586.2,160.3 586.7,160.7 587.2,158.2 587.7,158.9 588.0,157.9 588.2,158.6 588.7,156.0 589.2,156.0 589.7,153.5 590.2,154.6 590.7,151.5 591.0,152.1 591.2,150.9 591.7,153.7 592.2,153.3 592.7,155.5 593.2,154.8 593.7,158.4 594.0,158.0 594.2,158.7 594.7,157.7 595.2,160.2 595.7,159.6 596.2,161.2 596.7,159.8 597.0,161.0 597.2,159.9 597.7,160.7 598.2,159.5 598.7,161.4 599.2,159.3 599.7,160.1 600.0,159.3 600.2,160.4 600.7,159.7 601.2,162.7 601.7,162.6 602.2,164.5 602.7,164.3 602.9,165.4 603.2,165.1 603.7,166.5 604.2,165.9 604.7,168.3 605.2,167.3 605.7,168.6 605.9,168.3 606.2,169.2 606.7,168.2 607.2,170.0 607.7,170.1 608.2,171.1 608.7,170.7 608.9,171.3 609.2,170.7 609.7,171.7 610.2,170.1 610.7,170.9 611.2,169.4 611.7,170.3 611.9,169.8 612.2,170.5 612.7,167.9 613.2,168.5 613.7,166.2 614.2,167.1 614.7,165.4 614.9,165.5 615.2,164.9 615.7,167.0 616.2,165.6 616.7,168.2 617.2,167.6 617.7,168.7 617.8,168.4 618.2,168.7 618.7,167.7 619.2,168.9 619.7,166.8 620.2,167.7 620.7,165.8 620.8,167.0 621.2,166.4 621.7,168.4 622.2,168.6 622.7,170.0 623.2,169.7 623.7,171.3 623.8,171.2 624.2,172.0 624.7,171.4 625.2,173.2 625.7,173.1 626.2,174.5 626.7,173.6 626.8,174.4 627.2,173.9 627.7,175.9 628.2,175.0 628.7,177.2 629.2,176.5 629.7,177.5 629.8,177.3 630.2,176.6 630.7,174.8 631.2,175.1 631.7,172.4 632.2,173.0 632.7,171.0 632.8,171.4 633.2,170.0 633.7,170.9 634.2,168.9 634.7,169.7 635.0,168.4 635.2,164.5 635.7,150.8 636.2,140.1 636.5,124.2 636.7,126.3 637.0,124.4 637.2,129.9 637.5,134.9 637.7,136.5 638.2,137.6 638.7,140.3 639.2,140.9 639.7,145.5 640.2,145.9 640.7,148.0 641.2,147.1 641.7,149.9 642.2,149.2 642.7,152.4 643.2,152.0 643.7,153.7 644.2,153.9 644.7,156.7 645.2,156.3 645.7,158.9 646.2,159.3 646.7,159.8 647.2,156.4 647.7,157.8 648.2,154.6 648.7,155.5 649.2,153.4 649.7,152.6 650.2,148.8 650.7,149.8 651.2,145.7 651.7,145.5 652.2,142.8 652.7,146.9 653.2,147.2 653.7,151.7 654.2,153.6 654.4,155.1 654.7,155.7 655.2,159.3 655.7,159.6 656.2,163.7 656.6,163.8 656.7,165.0 657.2,163.4 657.7,165.4 658.2,165.0 658.7,166.6 659.2,166.3 659.6,166.9 659.7,166.3 660.2,167.0 660.7,165.7 661.2,166.4 661.7,165.5 662.2,165.6 662.6,165.3 662.7,166.3 663.2,164.3 663.7,164.7 664.2,162.9 664.7,163.1 665.2,161.0 665.6,161.0 665.7,160.1 666.2,162.8 666.7,161.8 667.2,164.7 667.7,164.9 668.2,167.0 668.6,166.8 668.7,167.3 669.2,166.2 669.7,166.6 670.2,165.7 670.7,166.4 671.2,164.5 671.6,165.4 671.7,164.8 672.2,165.2 672.7,163.3 673.2,163.4 673.7,161.5 674.2,162.3 674.6,160.8 674.7,161.1 675.2,160.1 675.7,162.3 676.2,161.1 676.7,162.4 677.2,160.9 677.5,162.5 677.7,162.2 678.2,163.4 678.7,163.0 679.2,165.0 679.7,163.6 680.2,165.5 680.5,165.3 680.7,165.9 681.2,164.0 681.7,165.1 682.2,162.4 682.7,164.0 683.0,162.3" fill="none" stroke="#4472c4" stroke-width="1.9" stroke-linejoin="round" stroke-linecap="round"/><polyline points="41.4,101.3 41.9,100.4 42.4,104.3 42.9,101.5 43.0,103.5 43.4,103.4 43.9,106.1 44.4,105.1 44.7,107.2 44.9,106.5 45.4,109.9 45.9,108.9 46.4,111.9 46.9,111.5 47.4,114.4 47.9,113.0 48.0,115.3 48.4,114.9 48.9,118.8 49.4,118.5 49.7,120.4 49.9,120.0 50.4,123.3 50.9,122.5 51.4,125.3 51.9,125.2 52.4,128.1 52.9,128.4 53.1,129.7 53.4,129.0 53.9,130.3 54.4,128.8 54.8,130.4 54.9,128.7 55.4,129.3 55.9,126.7 56.4,129.1 56.5,126.8 56.9,127.2 57.4,124.5 57.9,128.1 58.2,125.6 58.4,127.2 58.9,125.9 59.4,128.6 59.8,128.5 59.9,129.0 60.4,127.0 60.9,128.1 61.4,125.0 61.5,127.3 61.9,126.2 62.4,127.0 62.9,124.5 63.2,125.5 63.4,125.4 63.9,127.3 64.4,128.4 64.9,130.5 65.4,130.1 65.9,133.0 66.4,132.3 66.5,134.0 66.9,132.9 67.4,136.0 67.9,134.9 68.4,137.0 68.9,136.2 69.0,137.5 69.4,138.8 69.9,142.6 70.2,143.3 70.4,143.3 70.9,141.3 71.4,142.7 71.9,139.2 72.4,139.8 72.9,140.2 73.4,142.6 73.6,141.5 73.9,141.5 74.4,139.3 74.9,139.4 75.2,137.9 75.4,139.7 75.9,138.6 76.4,141.8 76.8,141.8 76.9,142.8 77.4,138.6 77.9,138.5 78.4,134.4 78.5,135.4 78.9,131.5 79.4,131.6 79.9,127.2 80.0,128.3 80.4,126.8 80.9,127.8 81.4,124.4 81.9,126.6 82.4,123.9 82.5,124.5 82.9,121.8 83.4,124.6 83.9,122.2 84.4,123.6 84.9,120.1 85.0,122.5 85.4,121.0 85.9,122.1 86.4,119.1 86.9,122.4 87.0,120.6 87.4,123.4 87.9,120.2 88.4,123.3 88.7,122.7 88.9,124.7 89.4,123.7 89.9,128.0 90.3,127.9 90.4,130.1 90.9,128.9 91.4,132.4 91.9,131.6 92.0,133.2 92.4,132.8 92.9,135.4 93.4,135.4 93.7,136.1 93.9,135.4 94.4,136.9 94.9,134.6 95.4,135.8 95.9,135.4 96.4,137.6 96.9,135.1 97.0,136.4 97.4,136.0 97.9,137.6 98.4,135.4 98.9,137.4 99.0,135.9 99.4,137.9 99.9,135.8 100.4,137.7 100.9,136.8 101.4,138.9 101.9,137.5 102.0,138.4 102.4,138.6 102.9,139.4 103.4,138.8 103.8,139.6 103.9,139.6 104.4,142.1 104.9,142.2 105.4,145.3 105.9,144.8 106.4,146.6 106.9,144.4 107.1,145.5 107.4,145.6 107.9,148.8 108.4,147.7 108.8,150.4 108.9,149.8 109.4,151.1 109.9,150.8 110.4,152.9 110.5,151.8 110.9,153.1 111.4,152.4 111.9,154.3 112.1,153.3 112.4,154.4 112.9,152.8 113.4,154.7 113.9,153.2 114.4,154.7 114.9,153.7 115.4,155.8 115.5,154.7 115.9,156.6 116.4,156.0 116.9,157.6 117.4,157.4 117.9,158.9 118.4,159.4 118.9,160.4 119.4,160.4 119.9,161.5 120.4,160.2 120.9,161.3 121.4,160.8 121.9,162.5 122.2,161.6 122.4,162.7 122.9,160.0 123.4,160.9 123.9,159.4 124.4,160.4 124.9,158.5 125.4,159.3 125.6,158.2 125.9,159.0 126.4,156.6 126.9,157.3 127.4,155.2 127.9,156.4 128.4,153.7 128.9,154.2 129.4,153.5 129.9,155.1 130.4,154.3 130.9,156.4 131.4,155.2 131.9,156.8 132.3,156.6 132.4,157.6 132.9,157.4 133.4,159.5 133.9,158.3 134.4,160.0 134.9,160.5 135.4,162.3 135.6,161.6 135.9,163.6 136.4,163.4 136.9,165.8 137.4,165.9 137.9,167.6 138.4,168.3 138.9,170.7 139.0,170.1 139.4,170.8 139.9,170.0 140.4,171.2 140.9,170.6 141.4,172.0 141.9,171.4 142.3,172.0 142.4,171.7 142.9,172.6 143.4,171.6 143.9,173.2 144.4,172.2 144.9,173.1 145.4,172.4 145.7,172.8 145.9,172.1 146.4,172.7 146.9,171.9 147.4,172.3 147.9,171.1 148.4,171.7 148.9,170.8 149.1,171.2 149.4,171.7 149.9,173.7 150.0,173.6 150.4,174.0 150.9,173.0 151.4,173.3 151.9,172.7 152.4,172.9 152.9,169.4 153.4,167.2 153.9,164.1 154.4,162.8 154.9,159.8 155.0,160.1 155.4,157.5 155.9,156.3 156.4,152.4 156.7,152.0 156.9,150.7 157.4,151.6 157.9,148.4 158.4,149.3 158.9,145.9 159.4,147.1 159.9,144.2 160.0,145.5 160.4,144.3 160.9,146.8 161.4,145.4 161.9,147.5 162.4,147.4 162.9,149.3 163.4,148.1 163.9,150.9 164.4,150.6 164.9,152.5 165.4,153.1 165.9,155.0 166.4,155.0 166.8,156.9 166.9,155.8 167.4,156.2 167.9,155.4 168.4,155.2 168.9,154.7 169.4,155.0 169.9,153.3 170.1,153.8 170.4,153.2 170.9,153.3 171.4,151.4 171.9,153.3 172.4,152.0 172.9,153.4 173.4,150.7 173.5,152.0 173.9,151.8 174.4,154.9 174.9,154.0 175.4,157.1 175.9,157.4 176.4,159.5 176.8,160.0 176.9,161.4 177.4,159.3 177.9,159.9 178.4,159.1 178.9,159.8 179.4,158.4 179.9,158.7 180.2,158.3 180.4,158.1 180.9,156.1 181.4,155.4 181.9,152.7 182.4,152.1 182.9,149.3 183.4,149.9 183.6,148.1 183.9,148.6 184.4,146.1 184.9,146.9 185.4,143.7 185.9,144.2 186.4,142.5 186.9,141.8 187.4,136.9 187.9,135.7 188.4,129.6 188.5,130.1 188.9,127.5 189.4,129.8 189.9,126.9 190.0,127.3 190.4,125.5 190.9,127.6 191.4,123.4 191.5,125.0 191.9,123.6 192.4,126.6 192.9,125.1 193.4,126.0 193.6,125.7 193.9,129.3 194.4,130.5 194.9,135.5 195.0,134.5 195.4,139.6 195.9,142.1 196.1,145.2 196.4,145.9 196.9,151.6 197.4,154.0 197.8,157.0 197.9,155.7 198.4,157.2 198.9,155.2 199.4,156.1 199.9,154.6 200.3,155.4 200.4,153.8 200.9,154.9 201.4,153.4 201.9,154.0 202.4,152.5 202.9,152.6 203.4,151.4 203.7,152.1 203.9,151.4 204.4,153.4 204.9,152.0 205.4,154.5 205.9,153.0 206.4,155.2 206.9,154.5 207.0,155.3 207.4,154.9 207.9,156.9 208.4,156.0 208.9,157.1 209.4,156.6 209.9,158.5 210.4,158.3 210.9,159.3 211.4,157.6 211.9,158.4 212.4,156.7 212.9,157.8 213.4,156.3 213.8,156.9 213.9,155.4 214.4,156.1 214.9,154.8 215.4,155.0 215.9,152.7 216.4,153.7 216.9,151.3 217.1,151.8 217.4,150.8 217.9,152.8 218.4,151.9 218.9,154.2 219.4,152.7 219.9,155.6 220.4,154.0 220.5,155.4 220.9,156.1 221.4,157.9 221.9,157.5 222.4,160.3 222.9,160.0 223.4,163.3 223.8,163.3 223.9,163.9 224.4,161.9 224.9,162.9 225.4,161.5 225.9,162.1 226.4,160.1 226.9,161.0 227.2,160.0 227.4,160.6 227.9,157.7 228.4,158.1 228.9,155.6 229.4,156.4 229.9,154.1 230.4,154.4 230.5,153.3 230.9,154.4 231.4,153.9 231.9,156.0 232.4,155.5 232.9,158.0 233.4,156.4 233.9,158.6 234.4,158.4 234.9,160.5 235.4,159.9 235.9,162.3 236.4,161.8 236.9,163.7 237.2,163.2 237.4,163.8 237.9,161.9 238.4,162.9 238.9,161.0 239.4,162.5 239.9,160.5 240.4,160.5 240.6,160.0 240.9,160.7 241.4,158.6 241.9,159.6 242.4,157.9 242.9,158.2 243.4,156.1 243.9,157.5 244.0,156.6 244.4,157.3 244.9,154.9 245.4,155.9 245.9,153.7 246.4,155.0 246.9,153.1 247.3,153.6 247.4,152.7 247.9,153.2 248.4,151.5 248.9,152.8 249.4,150.3 249.9,151.8 250.4,149.9 250.7,150.4 250.9,150.2 251.4,152.2 251.9,152.3 252.4,154.0 252.9,153.7 253.4,156.4 253.9,155.9 254.0,157.0 254.4,157.5 254.9,158.9 255.4,158.7 255.9,161.3 256.4,160.4 256.9,162.7 257.4,163.2 257.9,163.4 258.4,161.6 258.9,161.6 259.4,160.0 259.9,160.5 260.4,158.3 260.7,158.5 260.9,157.9 261.4,159.3 261.9,159.1 262.4,160.3 262.9,159.4 263.4,160.2 263.9,159.6 264.4,161.2 264.9,159.9 265.4,161.5 265.9,160.8 266.4,162.2 266.7,161.7 266.9,162.4 267.4,161.2 267.9,162.1 268.4,160.9 268.9,162.1 269.4,160.2 269.9,161.4 270.0,160.9 270.4,161.7 270.9,161.1 271.4,162.4 271.9,161.6 272.4,163.0 272.9,162.9 273.4,163.6 273.9,162.7 274.4,163.8 274.9,162.1 275.4,163.4 275.9,161.9 276.4,162.3 276.8,161.5 276.9,161.9 277.4,161.8 277.9,163.1 278.4,162.9 278.9,164.8 279.4,164.1 279.9,165.7 280.2,164.9 280.4,166.0 280.9,165.8 281.4,167.6 281.9,167.3 282.4,168.9 282.9,169.2 283.4,170.1 283.5,170.1 283.9,170.2 284.4,168.7 284.9,168.3 285.4,166.6 285.9,167.3 286.4,165.5 286.8,165.3 286.9,164.6 287.4,166.8 287.9,166.2 288.4,167.2 288.9,166.4 289.4,168.4 289.9,168.3 290.2,168.6 290.4,167.9 290.9,169.2 291.4,168.8 291.9,170.0 292.4,169.1 292.9,170.8 293.4,169.4 293.6,170.2 293.9,169.7 294.4,170.3 294.9,168.7 295.4,169.7 295.9,168.1 296.4,169.1 296.9,168.4 297.4,169.4 297.9,169.1 298.4,170.7 298.9,170.1 299.4,171.1 299.9,171.2 300.3,172.0 300.4,171.7 300.9,172.8 301.4,172.9 301.9,173.9 302.4,173.6 302.9,174.8 303.4,174.7 303.6,175.5 303.9,174.4 304.4,174.6 304.9,172.0 305.4,172.1 305.9,170.8 306.4,170.5 306.9,168.5 307.0,168.6 307.4,167.2 307.9,167.0 308.4,164.9 308.9,165.2 309.4,163.4 309.9,163.5 310.3,161.6 310.4,162.5 310.9,160.6 311.4,160.5 311.9,158.9 312.4,159.2 312.9,157.7 313.4,158.0 313.7,156.6 313.9,157.6 314.4,156.5 314.9,157.9 315.4,157.1 315.9,158.5 316.4,157.9 316.9,159.1 317.0,158.4 317.4,160.6 317.9,160.5 318.4,163.4 318.9,163.4 319.4,166.3 319.9,166.3 320.4,168.7 320.9,167.7 321.4,168.4 321.9,167.4 322.4,168.2 322.9,167.1 323.4,167.6 323.8,166.7 323.9,166.7 324.4,164.7 324.9,164.2 325.4,161.6 325.9,161.2 326.4,158.6 326.9,157.6 327.1,156.6 327.4,156.6 327.9,153.8 328.4,154.1 328.9,151.6 329.4,152.0 329.9,149.1 330.4,150.1 330.5,148.0 330.9,148.7 331.4,147.6 331.9,148.4 332.4,146.9 332.9,148.6 333.4,145.6 333.8,147.1 333.9,146.1 334.4,147.9 334.9,147.1 335.4,148.2 335.9,146.5 336.4,148.8 336.9,147.6 337.2,148.7 337.4,147.7 337.9,148.9 338.4,148.6 338.9,150.5 339.4,148.7 339.9,150.3 340.4,150.0 340.5,150.3 340.9,150.0 341.4,151.9 341.9,150.3 342.4,152.4 342.9,152.4 343.4,153.2 343.9,153.3 344.4,155.1 344.9,154.2 345.4,155.0 345.9,154.9 346.4,157.1 346.9,156.4 347.2,156.8 347.4,155.8 347.9,157.2 348.4,155.1 348.9,157.3 349.4,154.9 349.9,156.6 350.4,154.5 350.6,155.4 350.9,154.3 351.4,155.4 351.9,153.9 352.4,154.8 352.9,153.4 353.4,154.5 353.9,153.0 354.0,153.7 354.4,152.3 354.9,154.1 355.4,152.7 355.9,154.2 356.4,153.3 356.9,154.3 357.3,153.3 357.4,154.7 357.9,152.9 358.4,154.9 358.9,153.1 359.4,155.1 359.9,154.4 360.4,155.9 360.7,154.9 360.9,155.9 361.4,153.7 361.9,154.7 362.4,153.1 362.9,154.2 363.4,153.2 363.9,154.0 364.0,153.1 364.4,154.2 364.9,152.0 365.4,153.2 365.9,151.0 366.4,152.0 366.9,149.3 367.4,150.4 367.9,149.2 368.4,149.7 368.9,146.7 369.4,147.9 369.9,145.3 370.4,146.3 370.7,144.5 370.9,145.6 371.4,144.1 371.9,145.9 372.4,144.7 372.9,145.9 373.4,144.8 373.9,143.9 374.4,140.6 374.9,141.6 375.0,139.9 375.4,140.1 375.9,137.3 376.4,139.6 376.9,137.0 377.0,138.1 377.4,137.6 377.9,140.6 378.4,138.8 378.9,141.7 379.4,140.5 379.9,142.4 380.0,141.8 380.4,142.8 380.9,140.9 381.4,141.3 381.9,140.5 382.4,141.1 382.9,139.3 383.0,140.3 383.4,137.3 383.9,138.1 384.4,134.5 384.9,135.8 385.1,134.0 385.4,134.8 385.9,131.7 386.4,131.8 386.8,129.7 386.9,131.2 387.4,127.5 387.9,129.5 388.4,126.3 388.5,127.4 388.9,127.9 389.4,131.7 389.9,130.5 390.4,134.1 390.5,134.0 390.9,134.7 391.4,133.8 391.9,135.9 392.4,133.8 392.9,135.6 393.0,134.8 393.4,134.0 393.9,130.1 394.4,132.0 394.9,127.5 395.0,128.3 395.4,126.7 395.9,127.7 396.4,125.8 396.8,125.4 396.9,123.4 397.4,123.7 397.9,118.4 398.4,120.4 398.5,117.9 398.9,116.2 399.4,113.3 399.9,112.9 400.2,109.9 400.4,111.1 400.9,108.1 401.4,110.8 401.9,109.0 402.4,111.7 402.9,108.6 403.4,109.3 403.6,108.5 403.9,109.1 404.4,107.4 404.9,108.5 405.4,106.2 405.9,106.9 406.4,104.6 406.9,105.7 407.4,103.5 407.9,106.3 408.4,101.3 408.9,105.3 409.0,102.5 409.4,103.8 409.9,101.2 410.4,104.2 410.9,101.2 411.1,102.2 411.4,101.6 411.9,105.2 412.4,103.9 412.9,108.6 413.4,106.9 413.6,109.4 413.9,107.9 414.4,112.0 414.9,112.8 415.3,115.8 415.4,115.5 415.9,120.5 416.4,122.7 416.9,129.2 417.0,128.5 417.4,128.2 417.9,125.9 418.4,126.3 418.6,124.6 418.9,124.5 419.4,121.3 419.9,121.2 420.3,118.7 420.4,118.8 420.9,118.1 421.4,119.7 421.9,119.2 422.4,121.2 422.9,119.0 423.4,121.6 423.7,120.5 423.9,121.4 424.4,119.8 424.9,122.6 425.4,121.2 425.9,122.7 426.4,121.2 426.9,123.3 427.0,121.5 427.4,122.7 427.9,121.5 428.4,124.1 428.9,121.3 429.4,124.7 429.9,122.7 430.4,124.6 430.9,122.4 431.4,123.3 431.9,121.2 432.4,122.3 432.9,118.0 433.4,120.1 433.8,118.3 433.9,120.8 434.4,117.2 434.9,119.2 435.4,116.4 435.9,118.6 436.4,117.2 436.9,118.7 437.1,116.6 437.4,117.8 437.9,116.0 438.4,116.6 438.9,112.6 439.4,114.9 439.9,112.0 440.4,112.8 440.5,111.9 440.9,113.5 441.4,109.6 441.9,111.6 442.4,108.3 442.9,110.3 443.4,106.8 443.8,107.4 443.9,106.4 444.4,107.7 444.9,104.6 445.4,108.8 445.9,104.9 446.4,107.5 446.9,105.8 447.2,107.4 447.4,105.1 447.9,108.7 448.4,107.2 448.9,109.8 449.4,109.1 449.7,110.8 449.9,110.1 450.4,114.3 450.9,114.6 451.4,117.7 451.9,118.0 452.4,124.3 452.9,124.0 453.1,125.7 453.4,125.1 453.9,128.8 454.4,128.7 454.9,130.6 455.4,131.2 455.6,132.5 455.9,131.3 456.4,132.6 456.9,131.2 457.4,132.5 457.9,130.0 458.4,132.3 458.9,129.9 459.0,131.0 459.4,128.7 459.9,131.1 460.4,128.6 460.9,131.3 461.4,129.1 461.9,130.8 462.3,128.8 462.4,130.4 462.9,128.8 463.4,130.2 463.9,129.9 464.4,131.5 464.9,130.9 465.4,133.2 465.6,132.0 465.9,133.6 466.4,132.1 466.9,134.0 467.4,131.9 467.9,134.6 468.4,132.9 468.9,134.6 469.0,133.6 469.4,135.4 469.9,133.5 470.4,135.6 470.9,133.4 471.4,136.8 471.9,134.1 472.4,136.0 472.9,133.4 473.4,134.5 473.9,131.8 474.4,134.1 474.9,130.4 475.4,132.2 475.7,130.3 475.9,131.3 476.4,129.0 476.9,130.0 477.4,127.2 477.9,130.7 478.4,127.5 478.9,128.2 479.0,127.6 479.4,127.8 479.9,123.6 480.4,124.0 480.7,122.0 480.9,122.9 481.4,117.6 481.7,117.4 481.9,115.3 482.4,118.4 482.9,117.3 483.4,118.6 483.9,118.5 484.4,123.2 484.9,124.2 485.0,125.7 485.4,124.2 485.9,127.2 486.4,125.4 486.7,127.5 486.9,127.6 487.4,136.4 487.9,139.1 488.4,145.5 488.9,144.7 489.4,146.9 489.9,146.0 490.4,148.6 490.9,147.1 491.4,148.6 491.7,148.2 491.9,150.2 492.4,149.0 492.9,151.4 493.4,151.5 493.9,153.0 494.4,151.7 494.9,154.1 495.4,153.0 495.9,155.4 496.4,154.0 496.8,155.5 496.9,154.6 497.4,155.3 497.9,153.6 498.4,153.3 498.9,151.5 499.4,152.2 499.9,150.4 500.1,150.4 500.4,149.5 500.9,149.3 501.4,147.3 501.9,148.7 502.4,146.3 502.9,147.0 503.4,143.7 503.5,145.3 503.9,144.5 504.4,146.6 504.9,145.1 505.4,147.0 505.9,146.0 506.4,147.6 506.8,146.4 506.9,147.9 507.4,147.1 507.9,149.7 508.4,149.4 508.9,151.7 509.4,150.9 509.9,152.9 510.2,153.1 510.4,153.4 510.9,152.5 511.4,152.8 511.9,151.5 512.4,152.3 512.9,150.4 513.4,151.1 513.6,150.0 513.9,147.3 514.4,139.4 514.8,135.1 514.9,132.9 515.4,133.5 515.9,129.8 516.0,130.1 516.4,128.9 516.9,131.6 517.4,130.4 517.9,130.9 518.4,129.4 518.9,132.3 519.0,130.5 519.4,133.4 519.9,130.7 520.4,133.2 520.9,132.6 521.0,133.3 521.4,132.6 521.9,135.3 522.4,133.9 522.9,136.5 523.4,135.3 523.6,137.2 523.9,138.2 524.4,144.1 524.9,146.1 525.3,150.3 525.4,150.1 525.9,151.9 526.4,150.9 526.9,152.6 527.4,152.2 527.9,154.5 528.4,153.7 528.7,155.4 528.9,155.2 529.4,157.4 529.9,156.4 530.4,159.1 530.9,158.3 531.4,161.0 531.9,159.9 532.0,161.1 532.4,160.3 532.9,161.0 533.4,159.4 533.9,160.4 534.4,158.0 534.9,159.6 535.4,158.2 535.9,158.8 536.4,156.8 536.9,158.0 537.4,156.1 537.9,157.1 538.4,154.9 538.7,155.4 538.9,154.8 539.4,156.4 539.9,156.4 540.4,158.1 540.9,157.4 541.4,159.7 541.9,159.2 542.1,160.3 542.4,160.3 542.9,161.6 543.4,160.9 543.9,162.7 544.4,161.7 544.9,163.7 545.4,163.5 545.9,164.3 546.4,163.5 546.9,165.4 547.4,163.9 547.9,165.4 548.4,164.5 548.8,165.3 548.9,164.3 549.4,165.0 549.9,162.8 550.4,163.2 550.9,161.5 551.4,162.1 551.9,160.1 552.1,160.4 552.4,160.1 552.9,160.3 553.4,158.8 553.9,160.0 554.4,158.9 554.9,159.4 555.4,157.9 555.5,158.7 555.9,158.3 556.4,160.1 556.9,159.4 557.4,160.7 557.9,160.2 558.4,162.0 558.9,161.7 559.4,162.8 559.9,162.4 560.4,164.0 560.9,163.6 561.4,165.1 561.9,164.7 562.2,165.4 562.4,164.8 562.9,166.1 563.4,165.3 563.9,167.4 564.4,166.2 564.9,167.7 565.4,167.0 565.6,168.1 565.9,167.4 566.4,167.8 566.9,166.4 567.4,166.5 567.9,165.2 568.4,165.7 568.9,164.9 569.4,164.9 569.9,164.1 570.4,165.4 570.9,163.5 571.4,164.5 571.9,163.7 572.3,163.7 572.4,163.4 572.9,163.1 573.4,161.9 573.9,161.4 574.4,159.5 574.9,160.3 575.4,158.1 575.6,158.8 575.9,157.1 576.4,157.9 576.9,155.7 577.4,156.7 577.9,154.5 578.4,154.8 578.9,152.2 579.0,153.8 579.4,152.0 579.9,154.4 580.4,152.1 580.9,153.5 581.4,151.4 581.9,152.6 582.3,151.6 582.4,152.4 582.9,152.5 583.4,154.8 583.9,154.3 584.4,156.2 584.9,155.7 585.0,156.7 585.4,155.9 585.9,157.1 586.4,156.5 586.9,158.4 587.4,156.4 587.9,158.5 588.0,157.8 588.4,158.9 588.9,158.2 589.4,160.6 589.9,158.8 590.4,160.8 590.9,160.1 591.0,161.0 591.4,160.6 591.9,163.4 592.4,162.6 592.9,164.7 593.4,164.0 593.9,165.8 594.0,165.1 594.4,166.4 594.9,166.4 595.4,168.0 595.9,167.7 596.4,169.8 596.9,169.2 597.0,169.9 597.4,168.8 597.9,169.5 598.4,168.9 598.9,168.9 599.4,167.9 599.9,168.6 600.4,167.5 600.9,168.5 601.4,167.6 601.9,167.8 602.4,167.0 602.9,166.9 603.4,166.4 603.9,167.3 604.4,165.9 604.9,167.7 605.4,166.6 605.9,167.1 606.4,167.7 606.9,168.8 607.4,168.9 607.9,170.6 608.4,169.9 608.9,171.5 609.4,171.9 609.9,173.3 610.4,172.9 610.9,174.6 611.4,175.0 611.9,175.9 612.4,175.3 612.9,176.0 613.4,174.5 613.9,175.6 614.4,173.9 614.9,174.4 615.4,173.8 615.9,173.7 616.4,172.2 616.9,172.6 617.4,171.5 617.8,171.4 617.9,170.8 618.4,172.4 618.9,172.6 619.4,174.1 619.9,174.3 620.4,175.4 620.8,175.6 620.9,176.3 621.4,175.7 621.9,176.7 622.4,176.2 622.9,177.1 623.4,176.6 623.8,177.5 623.9,177.1 624.4,178.1 624.9,177.1 625.4,178.2 625.9,177.8 626.4,178.9 626.8,178.7 626.9,179.2 627.4,178.2 627.9,178.4 628.4,177.7 628.9,178.0 629.4,177.2 629.8,177.4 629.9,176.8 630.4,177.4 630.9,176.5 631.4,177.0 631.9,176.1 632.4,176.3 632.8,175.6 632.9,176.0 633.4,174.0 633.9,174.2 634.4,172.1 634.9,172.3 635.4,170.1 635.7,170.1 635.9,167.9 636.4,164.6 636.6,162.8 636.9,161.5 637.4,157.7 637.5,158.1 637.9,158.4 638.4,160.1 638.5,159.8 638.9,161.4 639.4,161.0 639.9,163.3 640.0,162.9 640.4,164.1 640.9,163.3 641.4,164.4 641.9,163.4 642.4,165.5 642.6,164.8 642.9,166.1 643.4,165.4 643.9,167.0 644.4,166.8 644.9,168.4 645.0,167.9 645.4,168.0 645.9,166.6 646.4,167.3 646.9,166.0 647.4,166.0 647.9,165.2 648.4,165.5 648.9,163.8 649.4,164.5 649.5,163.5 649.9,164.0 650.4,162.9 650.9,164.6 651.4,164.0 651.5,164.2 651.9,164.2 652.4,166.7 652.9,166.4 653.4,168.7 653.5,168.3 653.9,169.4 654.4,170.1 654.9,171.5 655.4,172.0 655.9,173.5 656.4,173.5 656.6,174.5 656.9,174.0 657.4,174.9 657.9,174.6 658.4,175.8 658.9,175.4 659.4,176.0 659.6,175.6 659.9,176.0 660.4,175.1 660.9,175.5 661.4,174.7 661.9,175.4 662.4,174.2 662.6,174.6 662.9,174.3 663.4,174.9 663.9,174.9 664.4,175.5 664.9,175.2 665.4,175.8 665.6,175.6 665.9,176.1 666.4,174.6 666.9,174.8 667.4,173.3 667.9,173.8 668.4,172.8 668.6,173.0 668.9,171.9 669.4,173.2 669.9,171.7 670.4,172.0 670.9,171.4 671.4,171.8 671.6,171.2 671.9,171.4 672.4,170.1 672.9,170.4 673.4,169.5 673.9,169.7 674.4,168.1 674.6,168.6 674.9,168.0 675.4,169.1 675.9,168.8 676.4,169.6 676.9,169.5 677.4,169.9 677.5,169.8 677.9,169.7 678.4,168.3 678.9,168.8 679.4,167.3 679.9,168.2 680.4,166.7 680.5,167.1 680.9,166.6 681.4,168.8 681.9,168.6 682.4,169.4 682.9,169.7 683.0,170.0" fill="none" stroke="#ed7d31" stroke-width="1.9" stroke-linejoin="round" stroke-linecap="round"/><polyline points="41.2,108.7 41.8,118.7 42.7,135.4 42.9,130.2 43.5,129.2 44.3,141.9 44.6,141.6 45.0,128.1 46.0,149.8 46.3,142.1 47.0,138.5 48.0,146.2 49.4,153.3 49.7,148.7 50.5,157.8 51.4,153.5 51.7,158.7 53.0,149.2 53.1,152.0 54.8,143.9 55.0,146.2 56.5,154.9 58.2,151.3 58.4,149.7 59.9,142.7 60.6,135.4 61.6,142.5 62.5,145.0 63.3,149.8 65.0,151.5 66.7,159.5 67.0,154.6 68.4,163.5 69.1,160.9 70.1,161.8 71.3,158.6 71.8,162.4 73.5,166.2 73.6,170.0 75.2,171.2 76.5,167.4 76.9,157.8 78.0,143.1 78.6,132.6 79.2,126.3 79.8,106.0 80.3,126.1 80.5,129.3 81.2,109.3 82.0,126.4 82.7,110.9 83.4,129.9 83.7,124.1 84.1,111.1 84.8,129.4 85.4,113.2 85.5,114.6 86.2,129.5 86.9,115.7 87.1,118.3 87.6,134.0 88.3,119.3 88.8,133.9 89.0,135.5 90.3,141.1 90.5,138.8 92.0,147.8 92.2,146.5 93.9,153.7 94.8,151.7 95.6,155.5 97.0,152.3 97.3,156.1 99.0,151.9 100.4,156.7 100.7,155.3 102.4,157.1 103.8,155.5 104.1,160.1 104.9,161.4 105.8,164.3 107.1,165.5 107.5,167.3 108.8,159.8 109.2,164.3 110.5,162.0 110.9,166.5 112.6,164.2 114.3,171.4 114.5,168.2 116.0,173.3 117.0,171.4 117.7,175.7 119.0,174.2 119.4,178.1 121.1,175.5 122.0,181.7 122.8,176.0 124.5,172.5 126.2,161.4 126.5,161.0 127.9,151.8 128.0,153.8 129.4,148.6 129.6,152.8 131.3,158.0 131.5,160.1 133.0,162.3 133.5,167.2 134.7,166.3 135.4,173.4 136.4,173.0 138.1,179.1 138.4,177.0 139.8,179.4 141.0,173.7 141.5,180.4 143.2,176.2 144.3,180.8 144.9,181.0 146.6,183.6 147.3,182.6 148.3,187.8 150.0,178.3 150.3,181.7 151.7,178.0 153.3,186.8 153.4,179.2 154.8,175.8 155.1,168.4 156.3,150.5 156.8,145.8 158.4,147.0 158.5,138.0 160.2,138.3 160.9,132.5 161.7,133.8 161.9,127.7 163.4,147.7 163.6,143.7 165.3,151.6 166.8,147.5 167.0,150.9 168.7,142.1 169.3,143.6 170.4,143.3 171.8,155.5 172.1,152.8 173.8,161.6 175.2,161.8 175.5,163.8 177.2,165.3 177.7,172.7 178.5,149.7 178.9,145.9 179.2,132.2 180.0,152.7 180.6,135.6 181.0,130.3 182.0,138.4 182.3,139.9 183.0,123.4 184.0,137.9 185.0,118.6 185.7,128.4 186.0,127.8 187.0,121.2 187.4,119.6 188.0,127.4 189.0,107.6 189.1,117.6 190.0,108.9 190.8,112.6 191.5,122.7 192.5,136.3 193.6,156.9 194.2,164.3 195.9,155.9 197.0,165.1 197.6,161.0 199.3,171.7 200.3,162.2 201.0,168.7 202.7,156.1 203.7,163.0 204.4,158.5 206.1,167.5 207.0,165.1 207.8,171.3 209.5,166.1 210.4,170.7 211.2,164.4 212.9,170.0 213.8,163.6 214.6,166.8 216.3,156.9 217.1,160.1 218.0,162.0 219.7,174.4 220.5,167.9 221.4,171.2 223.1,169.4 223.8,175.6 224.8,168.4 226.5,170.7 227.2,164.2 228.2,165.0 229.9,149.4 230.5,151.2 231.6,147.7 233.3,163.3 233.9,160.2 235.0,166.4 236.7,161.5 237.2,171.5 238.4,167.5 240.1,171.7 240.6,165.0 241.8,171.7 243.5,166.7 244.0,172.8 245.2,162.3 246.9,157.6 247.3,146.1 248.6,158.5 250.3,158.0 250.7,165.4 252.0,162.4 253.7,173.4 254.0,166.7 255.4,174.0 257.1,170.1 257.4,174.3 258.8,156.4 260.0,156.0 260.5,152.8 260.7,161.6 262.2,163.0 263.4,168.8 263.9,163.9 265.6,161.3 265.8,155.0 267.3,168.0 268.4,168.5 269.0,167.9 270.7,161.3 271.7,163.2 272.4,156.6 274.1,160.8 275.1,153.4 275.8,163.6 277.5,158.6 278.5,167.5 279.2,158.3 280.9,165.7 281.8,158.2 282.6,159.1 284.3,151.0 285.2,155.2 286.0,150.3 287.7,159.6 288.5,153.5 289.4,164.4 291.0,167.3 291.1,175.5 292.8,173.2 294.4,180.5 294.5,172.2 296.2,173.4 296.9,164.0 297.9,167.7 299.6,163.7 300.3,171.8 301.3,168.8 303.0,177.1 303.6,172.0 304.7,175.0 306.4,158.9 307.0,160.1 308.1,149.8 309.5,148.5 309.8,140.3 311.5,148.9 312.0,139.8 313.2,150.8 313.7,145.4 314.9,159.1 316.6,149.9 317.0,158.1 318.3,155.2 320.0,163.4 320.4,157.2 321.7,164.5 323.4,153.3 323.8,160.2 325.1,148.9 326.8,148.2 327.1,143.8 328.5,132.5 330.2,126.2 330.5,133.1 331.9,131.6 332.0,134.7 333.6,136.7 334.7,152.2 335.3,145.0 337.0,148.1 337.2,139.3 338.7,150.7 340.4,148.2 340.5,152.5 342.1,152.2 343.8,165.4 343.9,162.2 345.5,167.7 347.2,165.6 348.9,168.5 350.6,164.2 352.3,168.4 354.0,159.8 355.7,166.7 357.3,156.3 357.4,165.8 359.1,149.9 360.7,155.3 360.8,145.3 362.5,156.1 364.0,151.1 364.2,160.2 365.9,143.0 367.4,143.2 367.6,135.2 369.0,132.8 369.3,125.2 370.0,125.8 371.0,122.4 371.5,130.3 372.7,132.0 373.4,144.0 374.4,129.5 376.1,129.6 376.7,117.4 377.8,134.1 378.5,130.8 379.5,138.9 380.0,136.3 381.2,136.3 382.0,126.0 382.9,128.1 383.4,118.7 384.6,122.0 385.9,119.8 386.3,125.9 387.5,124.9 388.0,143.2 388.5,147.4 389.7,148.1 390.0,139.3 391.4,147.5 393.1,145.0 393.5,156.1 394.8,134.5 395.5,130.3 396.5,114.1 397.0,124.4 397.8,85.5 398.2,81.6 398.3,76.4 399.0,115.0 399.7,78.2 399.9,90.2 400.4,106.3 401.1,84.1 401.6,102.0 401.8,116.7 402.5,80.2 403.2,113.1 403.3,103.0 403.9,89.1 404.6,104.6 405.0,96.5 405.3,82.5 406.0,115.6 406.7,79.1 407.4,112.9 408.1,77.9 408.4,97.1 408.8,102.9 409.5,89.3 410.1,110.9 410.2,120.4 410.8,90.5 411.5,128.5 411.8,119.7 412.5,113.7 413.5,136.3 414.5,119.1 415.2,136.4 415.5,151.1 416.5,123.1 416.9,135.8 417.8,139.5 418.6,131.7 419.0,116.0 420.3,124.7 420.4,117.5 421.5,138.0 422.0,125.0 422.5,130.0 423.7,133.1 424.4,149.3 425.4,123.4 425.5,130.9 427.0,124.2 427.1,131.9 428.0,137.3 428.8,131.5 429.0,125.7 430.5,145.0 430.9,147.3 432.0,134.9 432.2,131.5 433.5,161.7 433.9,148.7 434.8,130.8 435.6,121.6 436.0,124.3 437.0,132.8 437.3,139.1 438.7,138.6 439.0,139.4 440.0,113.5 440.7,118.2 441.3,108.6 442.4,110.7 442.5,103.7 444.0,107.1 444.1,98.0 445.2,113.4 445.8,106.9 446.5,118.7 447.5,124.1 447.8,132.4 449.0,138.2 449.2,147.4 450.2,133.3 450.9,143.9 451.8,150.3 452.6,149.9 453.0,138.1 454.3,139.6 454.4,132.4 455.7,153.2 456.0,146.3 457.0,152.6 457.7,141.6 458.5,141.0 459.4,141.9 460.0,149.3 461.0,154.2 461.1,157.1 462.3,136.8 462.8,143.5 463.5,133.7 464.5,150.5 465.0,150.1 466.0,156.1 466.2,147.8 467.3,138.9 467.9,140.0 468.8,159.9 469.5,159.4 469.6,166.5 471.3,154.9 472.3,166.3 473.0,159.2 474.7,163.0 475.7,157.3 476.4,152.5 477.4,122.6 478.1,132.5 479.8,132.3 480.0,137.8 481.5,141.3 483.2,154.1 483.4,143.4 484.9,158.2 485.9,163.7 486.6,161.6 488.3,149.6 488.4,158.1 490.0,151.7 491.7,163.1 493.4,163.9 495.1,172.6 496.8,161.1 498.4,158.4 498.5,151.0 500.2,138.6 501.0,129.5 501.9,137.9 502.6,137.0 503.6,152.4 505.2,153.8 505.3,162.0 507.0,157.1 508.5,165.0 508.7,156.8 510.4,165.1 511.9,163.3 512.1,163.0 513.6,137.1 513.8,143.0 515.5,132.5 516.0,137.3 517.2,131.8 518.6,140.0 518.9,139.5 520.6,153.0 522.0,154.8 522.3,157.6 524.0,157.7 525.3,167.5 525.7,159.8 527.4,167.8 528.7,164.8 529.1,169.2 530.8,159.7 532.0,160.7 532.5,155.4 534.2,160.2 535.4,153.0 535.9,160.9 537.6,156.2 538.7,165.1 539.3,161.9 541.0,173.1 542.1,166.2 542.7,175.0 544.4,162.8 545.4,165.3 546.1,161.6 547.8,169.7 548.8,167.0 549.5,174.5 551.2,166.1 552.1,169.1 552.9,163.9 554.6,170.0 555.5,163.1 556.3,169.8 558.0,166.7 558.9,173.2 559.7,168.3 561.4,176.5 562.2,171.6 563.1,175.4 564.8,163.9 565.6,166.6 566.5,151.3 567.0,152.7 568.0,158.8 568.2,164.2 569.0,145.1 569.9,160.2 570.0,157.5 571.0,144.1 571.6,150.9 572.0,160.8 573.0,139.4 573.3,152.8 574.0,159.2 575.0,141.6 576.0,155.0 576.7,146.5 577.0,139.8 578.0,161.7 578.4,147.6 579.0,145.1 580.0,156.4 580.1,156.4 581.0,141.5 581.8,157.4 582.0,157.8 583.0,145.2 583.5,149.8 584.0,158.9 585.0,141.9 585.2,149.8 586.0,153.6 586.9,146.3 587.0,141.9 588.0,152.6 588.6,153.1 590.3,159.0 591.0,156.5 592.0,161.8 593.7,156.3 594.0,161.3 595.4,161.4 597.0,164.0 597.1,161.0 598.8,166.6 599.9,165.7 600.5,170.5 602.2,165.3 602.9,170.7 603.9,164.8 605.6,174.0 605.9,168.8 607.3,174.8 608.9,172.7 609.0,178.7 610.7,174.7 611.9,178.7 612.4,173.2 614.1,177.4 614.9,170.6 615.8,176.0 617.5,172.6 617.8,178.1 619.2,174.9 620.8,180.1 620.9,177.1 622.6,181.6 623.8,176.1 624.3,180.2 626.0,177.9 626.8,180.0 627.7,177.9 629.4,180.9 629.8,178.2 631.1,178.7 632.8,174.8 634.5,167.4 635.0,160.7 636.0,135.6 636.2,128.8 636.8,128.4 637.9,130.0 638.0,134.2 639.5,139.8 639.6,141.5 641.3,145.2 641.7,149.7 643.0,146.9 644.7,147.4 646.4,148.0 647.7,154.2 648.1,149.4 649.8,141.9 649.9,140.5 651.5,144.1 653.0,148.4 653.2,152.1 654.9,162.4 655.1,168.5 656.6,167.2 658.1,174.4 658.3,170.5 660.0,176.9 661.1,172.9 661.7,176.8 663.4,173.0 664.1,174.6 665.1,172.1 666.8,176.2 667.1,173.5 668.5,176.9 670.1,172.1 670.2,175.2 671.9,171.0 673.1,173.8 673.6,170.1 675.3,176.5 676.0,174.8 677.0,177.6 678.7,169.9 679.0,174.7 680.4,169.5 682.0,169.9 682.1,166.8 683.0,171.0" fill="none" stroke="#a5a5a5" stroke-width="2.0" stroke-linejoin="round" stroke-linecap="round"/><polyline points="41.1,152.8 41.9,151.2 42.7,151.2 43.5,150.0 44.3,149.4 45.1,147.7 45.9,148.5 46.7,145.8 47.5,146.0 48.3,146.2 49.1,146.8 49.9,144.7 50.7,145.2 51.5,144.6 52.3,142.3 53.1,142.6 53.9,140.8 54.7,141.0 55.5,140.3 56.3,142.7 57.1,142.3 57.9,143.9 58.7,143.0 59.5,142.7 60.3,140.7 61.1,140.0 61.9,141.3 62.7,141.0 63.5,142.6 64.3,142.5 65.1,143.4 65.9,144.8 66.7,144.6 67.5,144.3 68.3,145.0 69.1,146.4 69.9,146.5 70.7,146.8 71.5,146.4 72.3,147.2 73.1,147.1 73.9,148.0 74.7,148.7 75.5,147.8 76.3,148.2 77.1,148.5 77.9,149.0 78.7,148.1 79.5,148.6 80.3,148.7 81.1,149.2 81.9,148.1 82.7,149.4 83.5,149.3 84.3,150.8 85.1,151.0 85.9,152.0 86.7,150.3 87.5,150.3 88.3,148.6 89.1,148.8 89.9,147.0 90.7,146.0 91.5,145.7 92.3,145.5 93.1,145.1 93.9,144.1 94.7,142.3 95.5,142.8 96.3,142.7 97.1,144.3 97.9,145.2 98.7,145.0 99.5,145.3 100.3,144.3 101.1,145.9 101.9,145.8 102.7,147.1 103.5,146.8 104.3,147.8 105.1,146.6 105.9,147.0 106.7,148.4 107.5,148.4 108.3,148.7 109.1,149.1 109.9,148.1 110.7,148.6 111.5,147.8 112.3,148.3 113.1,146.9 113.9,145.1 114.7,144.7 115.5,144.9 116.3,144.3 117.1,144.4 117.9,145.3 118.7,145.6 119.5,145.8 120.3,145.1 121.1,144.3 121.9,144.2 122.7,144.5 123.5,146.3 124.3,147.3 125.1,147.3 125.9,146.5 126.7,147.2 127.5,146.5 128.3,146.1 129.1,144.3 129.9,142.2 130.7,141.7 131.5,139.2 132.3,138.9 133.1,138.2 133.9,136.6 134.7,136.8 135.5,134.5 136.3,135.3 137.1,133.6 137.9,133.5 138.7,132.8 139.5,132.5 140.3,131.6 141.1,129.0 141.9,128.5 142.7,129.0 143.5,128.0 144.3,130.0 145.1,130.6 145.9,131.7 146.7,132.0 147.5,131.9 148.3,133.6 149.1,133.4 149.9,131.9 150.7,132.0 151.5,134.0 152.3,134.3 153.1,135.5 153.9,137.2 154.7,137.3 155.5,139.9 156.3,141.3 157.1,142.2 157.9,142.3 158.7,143.5 159.5,145.0 160.3,146.4 161.1,145.8 161.9,147.1 162.7,149.5 163.5,150.9 164.3,150.2 165.1,152.5 165.9,153.2 166.7,153.8 167.5,153.5 168.3,154.1 169.1,154.3 169.9,155.7 170.7,154.9 171.5,155.1 172.3,156.6 173.1,156.7 173.9,157.1 174.7,157.2 175.5,156.2 176.3,156.6 177.1,157.7 177.9,158.1 178.7,158.0 179.5,157.3 180.3,157.7 181.1,156.3 181.9,156.7 182.7,157.1 183.5,157.2 184.3,156.8 185.1,155.8 185.9,155.6 186.7,154.3 187.5,154.7 188.3,155.0 189.1,153.4 189.9,153.1 190.7,152.7 191.5,153.2 192.3,152.6 193.1,152.6 193.9,151.5 194.7,152.6 195.5,151.2 196.3,151.6 197.1,152.2 197.9,151.2 198.7,152.1 199.5,151.8 200.3,150.2 201.1,150.0 201.9,149.3 202.7,150.5 203.5,149.1 204.3,148.8 205.1,148.1 205.9,147.4 206.7,147.7 207.5,147.3 208.3,148.4 209.1,148.1 209.9,149.1 210.7,150.3 211.5,149.6 212.3,151.1 213.1,149.7 213.9,150.9 214.7,150.2 215.5,150.1 216.3,149.3 217.1,147.6 217.9,148.3 218.7,148.9 219.5,148.6 220.3,149.3 221.1,149.4 221.9,148.7 222.7,149.3 223.5,148.6 224.3,149.3 225.1,150.3 225.9,149.9 226.7,149.5 227.5,149.5 228.3,150.1 229.1,150.3 229.9,151.0 230.7,151.7 231.5,151.4 232.3,153.4 233.1,152.9 233.9,153.6 234.7,154.6 235.5,154.4 236.3,155.1 237.1,156.0 237.9,158.1 238.7,156.8 239.5,157.8 240.3,159.1 241.1,158.2 241.9,156.2 242.7,157.2 243.5,155.4 244.3,154.3 245.1,154.2 245.9,154.4 246.7,152.9 247.5,153.9 248.3,154.2 249.1,153.8 249.9,154.6 250.7,154.5 251.5,154.1 252.3,155.3 253.1,155.0 253.9,155.8 254.7,153.8 255.5,153.5 256.3,153.2 257.1,151.2 257.9,151.2 258.7,151.3 259.5,149.9 260.3,149.2 261.1,148.1 261.9,146.2 262.7,145.5 263.5,144.1 264.3,143.6 265.1,142.4 265.9,141.5 266.7,142.0 267.5,141.8 268.3,142.1 269.1,142.6 269.9,143.4 270.7,143.6 271.5,142.8 272.3,145.0 273.1,145.1 273.9,144.3 274.7,144.5 275.5,143.4 276.3,143.0 277.1,142.7 277.9,142.1 278.7,142.7 279.5,143.1 280.3,142.5 281.1,143.4 281.9,142.2 282.7,142.1 283.5,142.6 284.3,141.9 285.1,140.3 285.9,140.9 286.7,141.6 287.5,141.0 288.3,142.8 289.1,142.5 289.9,142.8 290.7,144.6 291.5,144.9 292.3,144.7 293.1,145.2 293.9,144.6 294.7,141.3 295.5,140.6 296.3,138.1 297.1,137.5 297.9,135.8 298.7,136.4 299.5,136.9 300.3,135.4 301.1,135.1 301.9,136.9 302.7,137.3 303.5,136.7 304.3,137.2 305.1,136.8 305.9,136.0 306.7,135.8 307.5,134.4 308.3,136.0 309.1,135.3 309.9,135.3 310.7,136.0 311.5,136.8 312.3,136.2 313.1,135.7 313.9,136.2 314.7,135.8 315.5,136.2 316.3,136.3 317.1,135.1 317.9,134.7 318.7,135.8 319.5,134.9 320.3,134.9 321.1,135.9 321.9,135.2 322.7,135.2 323.5,134.2 324.3,135.5 325.1,136.6 325.9,138.1 326.7,137.0 327.5,138.8 328.3,139.5 329.1,140.6 329.9,141.8 330.7,141.8 331.5,142.4 332.3,142.6 333.1,143.6 333.9,144.3 334.7,143.9 335.5,145.5 336.3,146.1 337.1,146.3 337.9,148.4 338.7,149.4 339.5,150.2 340.3,151.6 341.1,152.5 341.9,151.7 342.7,151.5 343.5,150.8 344.3,151.4 345.1,151.4 345.9,150.0 346.7,149.9 347.5,150.5 348.3,149.9 349.1,149.7 349.9,150.3 350.7,151.3 351.5,151.1 352.3,151.5 353.1,151.8 353.9,151.8 354.7,152.9 355.5,152.8 356.3,153.3 357.1,152.9 357.9,153.4 358.7,153.5 359.5,154.1 360.3,153.1 361.1,153.2 361.9,152.8 362.7,153.1 363.5,155.0 364.3,154.4 365.1,154.3 365.9,154.9 366.7,156.3 367.5,157.1 368.3,157.5 369.1,156.9 369.9,156.5 370.7,157.0 371.5,155.8 372.3,155.9 373.1,155.3 373.9,156.2 374.7,155.7 375.5,155.3 376.3,154.7 377.1,155.6 377.9,154.3 378.7,155.0 379.5,153.3 380.3,153.6 381.1,153.2 381.9,151.4 382.7,150.9 383.5,151.5 384.3,149.9 385.1,150.5 385.9,149.5 386.7,151.1 387.5,151.0 388.3,150.0 389.1,151.4 389.9,151.4 390.7,150.2 391.5,150.5 392.3,151.3 393.1,151.4 393.9,150.4 394.7,149.3 395.5,149.4 396.3,149.3 397.1,148.3 397.9,147.2 398.7,147.1 399.5,147.6 400.3,146.6 401.1,146.8 401.9,145.2 402.7,145.8 403.5,145.6 404.3,145.4 405.1,143.9 405.9,144.7 406.7,143.7 407.5,143.1 408.3,142.8 409.1,144.2 409.9,145.0 410.7,144.6 411.5,144.4 412.3,144.9 413.1,145.6 413.9,147.0 414.7,146.3 415.5,146.6 416.3,147.2 417.1,147.0 417.9,147.2 418.7,148.2 419.5,148.4 420.3,147.3 421.1,148.0 421.9,149.2 422.7,149.2 423.5,149.1 424.3,150.1 425.1,149.7 425.9,148.6 426.7,147.9 427.5,149.1 428.3,149.2 429.1,148.7 429.9,149.0 430.7,147.4 431.5,148.4 432.3,148.6 433.1,147.3 433.9,147.0 434.7,148.8 435.5,149.0 436.3,148.6 437.1,149.5 437.9,148.5 438.7,148.5 439.5,149.0 440.3,149.0 441.1,148.9 441.9,148.0 442.7,147.9 443.5,146.2 444.3,146.8 445.1,146.7 445.9,146.0 446.7,145.1 447.5,144.8 448.3,143.5 449.1,142.9 449.9,143.1 450.7,142.8 451.5,142.3 452.3,143.4 453.1,144.6 453.9,144.1 454.7,144.9 455.5,146.4 456.3,146.7 457.1,148.1 457.9,148.6 458.7,148.0 459.5,146.9 460.3,148.5 461.1,146.7 461.9,145.6 462.7,145.9 463.5,146.1 464.3,145.6 465.1,143.4 465.9,142.7 466.7,143.6 467.5,143.1 468.3,143.1 469.1,142.7 469.9,142.6 470.7,142.3 471.5,141.4 472.3,142.3 473.1,142.6 473.9,143.1 474.7,145.3 475.5,145.6 476.3,144.9 477.1,144.2 477.9,144.4 478.7,146.2 479.5,146.5 480.3,146.0 481.1,146.7 481.9,146.9 482.7,147.6 483.5,148.6 484.3,147.5 485.1,145.4 485.9,144.0 486.7,143.7 487.5,142.1 488.3,141.8 489.1,142.9 489.9,142.6 490.7,140.4 491.5,140.0 492.3,141.0 493.1,140.3 493.9,139.1 494.7,138.3 495.5,138.4 496.3,138.0 497.1,139.7 497.9,140.1 498.7,140.7 499.5,140.7 500.3,142.9 501.1,142.8 501.9,143.9 502.7,146.4 503.5,146.9 504.3,147.7 505.1,148.8 505.9,149.9 506.7,150.9 507.5,149.9 508.3,150.7 509.1,151.6 509.9,154.2 510.7,153.9 511.5,154.2 512.3,155.3 513.1,154.9 513.9,155.7 514.7,155.3 515.5,155.9 516.3,154.7 517.1,156.1 517.9,153.6 518.7,153.1 519.5,152.6 520.3,153.6 521.1,151.7 521.9,152.2 522.7,151.8 523.5,150.8 524.3,150.1 525.1,150.4 525.9,148.5 526.7,147.8 527.5,147.5 528.3,146.1 529.1,144.4 529.9,143.2 530.7,143.1 531.5,143.4 532.3,142.3 533.1,140.7 533.9,140.7 534.7,141.5 535.5,140.5 536.3,140.9 537.1,140.8 537.9,141.4 538.7,141.4 539.5,141.8 540.3,140.0 541.1,140.5 541.9,141.2 542.7,141.9 543.5,142.1 544.3,144.0 545.1,143.3 545.9,145.0 546.7,145.8 547.5,144.9 548.3,145.0 549.1,146.8 549.9,145.5 550.7,146.3 551.5,147.2 552.3,147.6 553.1,149.7 553.9,149.1 554.7,149.0 555.5,149.0 556.3,148.6 557.1,146.9 557.9,147.9 558.7,148.4 559.5,147.3 560.3,148.4 561.1,148.4 561.9,148.0 562.7,149.2 563.5,148.4 564.3,149.3 565.1,148.1 565.9,148.0 566.7,146.4 567.5,146.7 568.3,145.9 569.1,146.4 569.9,146.8 570.7,147.1 571.5,146.0 572.3,145.0 573.1,145.9 573.9,145.7 574.7,146.6 575.5,146.9 576.3,148.1 577.1,147.7 577.9,148.3 578.7,148.6 579.5,148.7 580.3,148.9 581.1,149.3 581.9,149.1 582.7,147.8 583.5,147.6 584.3,147.2 585.1,148.0 585.9,148.4 586.7,148.1 587.5,150.5 588.3,151.6 589.1,152.7 589.9,154.0 590.7,155.1 591.5,156.0 592.3,154.6 593.1,154.6 593.9,155.9 594.7,155.7 595.5,155.8 596.3,154.5 597.1,155.6 597.9,154.1 598.7,154.3 599.5,154.4 600.3,153.8 601.1,152.9 601.9,153.3 602.7,153.2 603.5,151.1 604.3,149.5 605.1,148.8 605.9,147.7 606.7,148.2 607.5,147.6 608.3,147.2 609.1,147.6 609.9,146.0 610.7,146.5 611.5,145.9 612.3,146.7 613.1,146.3 613.9,147.7 614.7,147.0 615.5,148.2 616.3,147.6 617.1,149.2 617.9,149.1 618.7,148.9 619.5,150.3 620.3,149.4 621.1,150.6 621.9,150.1 622.7,149.1 623.5,148.5 624.3,149.2 625.1,149.6 625.9,149.4 626.7,150.2 627.5,152.6 628.3,152.3 629.1,153.2 629.9,153.2 630.7,153.4 631.5,154.2 632.3,153.7 633.1,153.8 633.9,155.3 634.7,155.9 635.5,158.6 636.3,157.8 637.1,156.4 637.9,154.3 638.7,154.6 639.5,155.2 640.3,154.4 641.1,153.7 641.9,153.5 642.7,152.9 643.5,152.5 644.3,153.8 645.1,154.2 645.9,153.5 646.7,154.0 647.5,153.1 648.3,151.9 649.1,152.1 649.9,152.3 650.7,151.4 651.5,150.6 652.3,149.4 653.1,149.7 653.9,150.2 654.7,150.2 655.5,149.8 656.3,150.3 657.1,152.2 657.9,151.9 658.7,153.6 659.5,155.1 660.3,155.4 661.1,155.0 661.9,155.8 662.7,154.1 663.5,153.2 664.3,151.4 665.1,152.2 665.9,150.7 666.7,151.1 667.5,151.8 668.3,151.5 669.1,149.8 669.9,149.2 670.7,148.9 671.5,150.4 672.3,149.4 673.1,151.4 673.9,149.6 674.7,150.6 675.5,149.7 676.3,148.7 677.1,148.1 677.9,148.4 678.7,148.5 679.5,147.7 680.3,149.4 681.1,150.0 681.9,150.2 682.7,149.5" fill="none" stroke="#f5c018" stroke-width="2.5" stroke-linejoin="round" stroke-linecap="round"/><text x="30" y="68.2" text-anchor="end" font-size="11" stroke="#262626" stroke-width="0.25">30</text><text x="30" y="119.2" text-anchor="end" font-size="11" stroke="#262626" stroke-width="0.25">20</text><text x="30" y="170.3" text-anchor="end" font-size="11" stroke="#262626" stroke-width="0.25">10</text><text x="30" y="221.4" text-anchor="end" font-size="11" stroke="#262626" stroke-width="0.25">0</text><text x="2.6" y="132.6" textLength="8.6" lengthAdjust="spacingAndGlyphs" font-size="11" stroke="#262626" stroke-width="0.25">%</text><text x="10.3" y="236.6" textLength="62.2" lengthAdjust="spacingAndGlyphs" font-size="11" stroke="#262626" stroke-width="0.25">23/12/2011</text><text x="107.4" y="236.6" textLength="62.2" lengthAdjust="spacingAndGlyphs" font-size="11" stroke="#262626" stroke-width="0.25">23/12/2012</text><text x="204.5" y="236.6" textLength="62.2" lengthAdjust="spacingAndGlyphs" font-size="11" stroke="#262626" stroke-width="0.25">23/12/2013</text><text x="302.0" y="236.6" textLength="62.2" lengthAdjust="spacingAndGlyphs" font-size="11" stroke="#262626" stroke-width="0.25">23/12/2014</text><text x="399.4" y="236.6" textLength="62.2" lengthAdjust="spacingAndGlyphs" font-size="11" stroke="#262626" stroke-width="0.25">23/12/2015</text><text x="496.5" y="236.6" textLength="62.2" lengthAdjust="spacingAndGlyphs" font-size="11" stroke="#262626" stroke-width="0.25">23/12/2016</text><text x="594.0" y="236.6" textLength="62.2" lengthAdjust="spacingAndGlyphs" font-size="11" stroke="#262626" stroke-width="0.25">23/12/2017</text><text x="271.4" y="16.8" textLength="29.3" lengthAdjust="spacingAndGlyphs" font-size="17" stroke="#262626" stroke-width="0.1">ASX</text><text x="306.2" y="16.8" textLength="28.0" lengthAdjust="spacing" font-size="17" stroke="#262626" stroke-width="0.1">200</text><text x="340.2" y="16.8" textLength="69.0" lengthAdjust="spacing" font-size="17" stroke="#262626" stroke-width="0.1">Volatility</text><line x1="177.2" y1="260.7" x2="203.2" y2="260.7" stroke="#4472c4" stroke-width="2.3" stroke-linecap="round"/><text x="205.9" y="264.3" textLength="73.3" lengthAdjust="spacingAndGlyphs" font-size="11" stroke="#262626" stroke-width="0.25">30 day ATM-IV</text><line x1="294.3" y1="260.7" x2="320.0" y2="260.7" stroke="#ed7d31" stroke-width="2.3" stroke-linecap="round"/><text x="322.5" y="264.3" textLength="23.4" lengthAdjust="spacingAndGlyphs" font-size="11" stroke="#262626" stroke-width="0.25">ANN</text><line x1="361.6" y1="260.7" x2="387.6" y2="260.7" stroke="#a5a5a5" stroke-width="2.3" stroke-linecap="round"/><text x="390.7" y="264.3" textLength="38.3" lengthAdjust="spacingAndGlyphs" font-size="11" stroke="#262626" stroke-width="0.25">E-Garch</text><line x1="445.1" y1="260.7" x2="471.4" y2="260.7" stroke="#ffc000" stroke-width="2.3" stroke-linecap="round"/><text x="473.9" y="264.3" textLength="35.4" lengthAdjust="spacingAndGlyphs" font-size="11" stroke="#262626" stroke-width="0.25">Heston</text></svg>
</body></html>
